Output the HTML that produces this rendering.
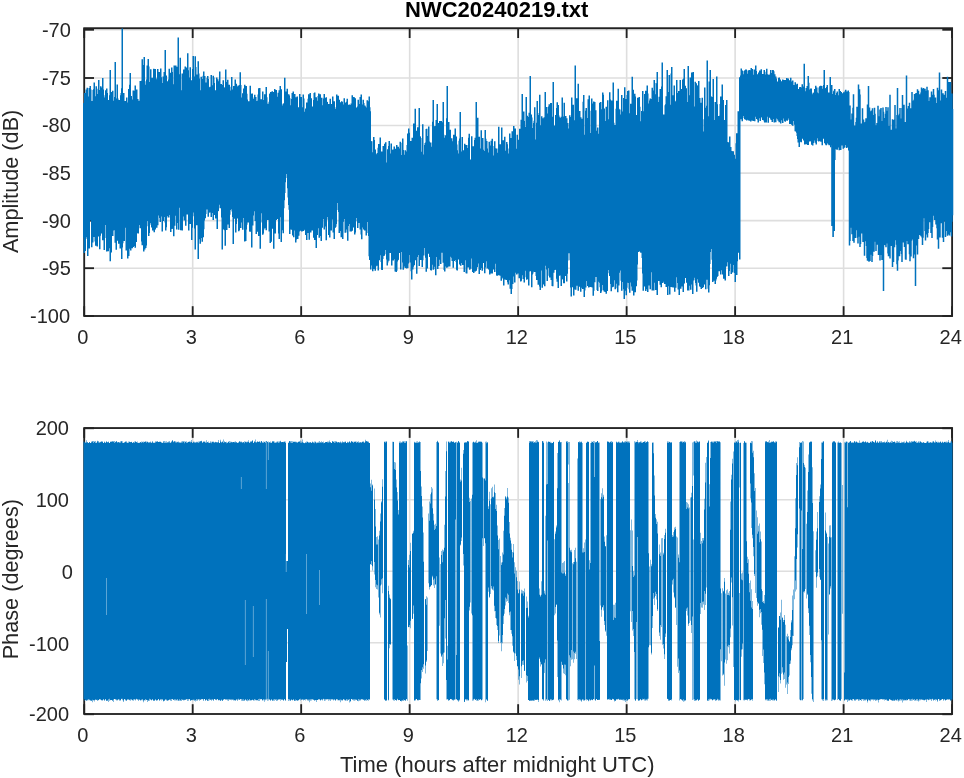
<!DOCTYPE html>
<html lang="en">
<head>
<meta charset="utf-8">
<title>NWC20240219.txt</title>
<style>
html,body{margin:0;padding:0;background:#fff;}
body{width:964px;height:778px;overflow:hidden;font-family:"Liberation Sans",sans-serif;}
svg{display:block;}
</style>
</head>
<body>
<svg width="964" height="778" viewBox="0 0 964 778">
<rect width="964" height="778" fill="#fff"/>
<g stroke="#dedede" stroke-width="1.6" fill="none"><line x1="192.69" y1="28.20" x2="192.69" y2="316.00"/><line x1="301.18" y1="28.20" x2="301.18" y2="316.00"/><line x1="409.66" y1="28.20" x2="409.66" y2="316.00"/><line x1="518.15" y1="28.20" x2="518.15" y2="316.00"/><line x1="626.64" y1="28.20" x2="626.64" y2="316.00"/><line x1="735.12" y1="28.20" x2="735.12" y2="316.00"/><line x1="843.61" y1="28.20" x2="843.61" y2="316.00"/><line x1="84.20" y1="268.20" x2="952.10" y2="268.20"/><line x1="84.20" y1="220.65" x2="952.10" y2="220.65"/><line x1="84.20" y1="173.10" x2="952.10" y2="173.10"/><line x1="84.20" y1="125.55" x2="952.10" y2="125.55"/><line x1="84.20" y1="78.00" x2="952.10" y2="78.00"/><line x1="84.20" y1="29.75" x2="952.10" y2="29.75"/></g>
<g stroke="#222" stroke-width="1.85" fill="none" stroke-linecap="butt"><rect x="84.20" y="28.20" width="867.90" height="287.80"/><line x1="84.20" y1="316.00" x2="84.20" y2="306.20"/><line x1="84.20" y1="28.20" x2="84.20" y2="38.00"/><line x1="192.69" y1="316.00" x2="192.69" y2="306.20"/><line x1="192.69" y1="28.20" x2="192.69" y2="38.00"/><line x1="301.18" y1="316.00" x2="301.18" y2="306.20"/><line x1="301.18" y1="28.20" x2="301.18" y2="38.00"/><line x1="409.66" y1="316.00" x2="409.66" y2="306.20"/><line x1="409.66" y1="28.20" x2="409.66" y2="38.00"/><line x1="518.15" y1="316.00" x2="518.15" y2="306.20"/><line x1="518.15" y1="28.20" x2="518.15" y2="38.00"/><line x1="626.64" y1="316.00" x2="626.64" y2="306.20"/><line x1="626.64" y1="28.20" x2="626.64" y2="38.00"/><line x1="735.12" y1="316.00" x2="735.12" y2="306.20"/><line x1="735.12" y1="28.20" x2="735.12" y2="38.00"/><line x1="843.61" y1="316.00" x2="843.61" y2="306.20"/><line x1="843.61" y1="28.20" x2="843.61" y2="38.00"/><line x1="952.10" y1="316.00" x2="952.10" y2="306.20"/><line x1="952.10" y1="28.20" x2="952.10" y2="38.00"/><line x1="84.20" y1="316.00" x2="94.00" y2="316.00"/><line x1="952.10" y1="316.00" x2="942.30" y2="316.00"/><line x1="84.20" y1="268.20" x2="94.00" y2="268.20"/><line x1="952.10" y1="268.20" x2="942.30" y2="268.20"/><line x1="84.20" y1="220.65" x2="94.00" y2="220.65"/><line x1="952.10" y1="220.65" x2="942.30" y2="220.65"/><line x1="84.20" y1="173.10" x2="94.00" y2="173.10"/><line x1="952.10" y1="173.10" x2="942.30" y2="173.10"/><line x1="84.20" y1="125.55" x2="94.00" y2="125.55"/><line x1="952.10" y1="125.55" x2="942.30" y2="125.55"/><line x1="84.20" y1="78.00" x2="94.00" y2="78.00"/><line x1="952.10" y1="78.00" x2="942.30" y2="78.00"/><line x1="84.20" y1="29.75" x2="94.00" y2="29.75"/><line x1="952.10" y1="29.75" x2="942.30" y2="29.75"/></g>
<g id="amp">
<path d="M83 103.1h1.5v134.5h-1.5zM83.5 105.3h1.5v147.7h-1.5zM84 93.1h1.5v122.7h-1.5zM84.5 103.8h1.5v147.2h-1.5zM85 108.2h1.5v122.7h-1.5zM85.5 89.5h1.5v147.7h-1.5zM86 109.5h1.5v107.5h-1.5zM86.5 87.7h1.5v151.2h-1.5zM87 96.4h1.5v159.6h-1.5zM87.5 98.3h1.5v122.4h-1.5zM88 101.2h1.5v133.8h-1.5zM88.5 88h1.5v160.4h-1.5zM89 101.5h1.5v117h-1.5zM89.5 86h1.5v129.6h-1.5zM90 89.4h1.5v131.2h-1.5zM90.5 107h1.5v108.8h-1.5zM91 101.1h1.5v146.2h-1.5zM91.5 109.1h1.5v106.2h-1.5zM92 110.2h1.5v132.3h-1.5zM92.5 90h1.5v138.2h-1.5zM93 89.3h1.5v147.8h-1.5zM93.5 82.5h1.5v152.4h-1.5zM94 98.7h1.5v128.9h-1.5zM94.5 96.3h1.5v145.1h-1.5zM95 96.3h1.5v149.4h-1.5zM95.5 86.2h1.5v140h-1.5zM96 88.8h1.5v132.1h-1.5zM96.5 95.3h1.5v151.3h-1.5zM97 101.3h1.5v124.3h-1.5zM97.5 94.1h1.5v142.5h-1.5zM98 80h1.5v146.7h-1.5zM98.5 99.5h1.5v125.3h-1.5zM99 90h1.5v159.3h-1.5zM99.5 95.6h1.5v140.2h-1.5zM100 86.3h1.5v134h-1.5zM100.5 111h1.5v115.2h-1.5zM101 87.6h1.5v145.8h-1.5zM101.5 102.9h1.5v124.5h-1.5zM102 78h1.5v162.3h-1.5zM102.5 89.6h1.5v133.4h-1.5zM103 97.5h1.5v128.6h-1.5zM103.5 111.1h1.5v138.9h-1.5zM104 112.2h1.5v125.9h-1.5zM104.5 95.3h1.5v128h-1.5zM105 90.3h1.5v129.2h-1.5zM105.5 94.8h1.5v130.1h-1.5zM106 88.6h1.5v162.8h-1.5zM106.5 92.9h1.5v123.6h-1.5zM107 104.4h1.5v125.5h-1.5zM107.5 103h1.5v148.2h-1.5zM108 99.9h1.5v135.8h-1.5zM108.5 105.9h1.5v113.3h-1.5zM109 95.2h1.5v153h-1.5zM109.5 70h1.5v191.2h-1.5zM110 110.1h1.5v135.7h-1.5zM110.5 91.9h1.5v160.7h-1.5zM111 94.6h1.5v121.6h-1.5zM111.5 95.1h1.5v124.3h-1.5zM112 90.7h1.5v145.2h-1.5zM112.5 107.9h1.5v122.7h-1.5zM113 100.7h1.5v129.5h-1.5zM113.5 103.8h1.5v114.5h-1.5zM114 96.9h1.5v130.9h-1.5zM114.5 62h1.5v180.7h-1.5zM115 110h1.5v115.9h-1.5zM115.5 106h1.5v143.7h-1.5zM116 98.6h1.5v133.7h-1.5zM116.5 84.4h1.5v144.5h-1.5zM117 98.5h1.5v142h-1.5zM117.5 111.4h1.5v129.5h-1.5zM118 103.6h1.5v140.2h-1.5zM118.5 100.1h1.5v126.4h-1.5zM119 101.7h1.5v124.1h-1.5zM119.5 104.3h1.5v144.2h-1.5zM120 95.3h1.5v134.5h-1.5zM120.5 93.1h1.5v135.9h-1.5zM121 88.3h1.5v170.8h-1.5zM121.5 28.6h1.5v218.9h-1.5zM122 103h1.5v140.3h-1.5zM122.5 111.7h1.5v129.3h-1.5zM123 92.9h1.5v144.3h-1.5zM123.5 108.8h1.5v132.1h-1.5zM124 101.2h1.5v121.4h-1.5zM124.5 101h1.5v121.9h-1.5zM125 102.2h1.5v125.5h-1.5zM125.5 101.5h1.5v149h-1.5zM126 97.6h1.5v135.6h-1.5zM126.5 109.4h1.5v134.3h-1.5zM127 102.4h1.5v156.1h-1.5zM127.5 108.7h1.5v116.7h-1.5zM128 88.9h1.5v167h-1.5zM128.5 98.7h1.5v147.4h-1.5zM129 84.7h1.5v164.1h-1.5zM129.5 73h1.5v143.5h-1.5zM130 108.4h1.5v142.1h-1.5zM130.5 96h1.5v147.8h-1.5zM131 99.5h1.5v124.6h-1.5zM131.5 110.3h1.5v138h-1.5zM132 104.2h1.5v124.3h-1.5zM132.5 90.5h1.5v156.5h-1.5zM133 90.7h1.5v135.5h-1.5zM133.5 98.1h1.5v147.9h-1.5zM134 96.4h1.5v126.6h-1.5zM134.5 85.6h1.5v162.2h-1.5zM135 110.6h1.5v109.2h-1.5zM135.5 92.6h1.5v149.4h-1.5zM136 89.5h1.5v143.8h-1.5zM136.5 102.9h1.5v127.8h-1.5zM137 98.9h1.5v133.5h-1.5zM137.5 105.9h1.5v127.7h-1.5zM138 105.7h1.5v118.6h-1.5zM138.5 100.8h1.5v124.1h-1.5zM139 105.5h1.5v117.8h-1.5zM139.5 81h1.5v147.2h-1.5zM140 85.7h1.5v133.8h-1.5zM140.5 86.2h1.5v131.2h-1.5zM141 80.7h1.5v160.7h-1.5zM141.5 59.2h1.5v186h-1.5zM142 90.6h1.5v126.6h-1.5zM142.5 70.1h1.5v162.7h-1.5zM143 65.1h1.5v186.3h-1.5zM143.5 57h1.5v175h-1.5zM144 81.3h1.5v168.2h-1.5zM144.5 89.1h1.5v152.9h-1.5zM145 84.7h1.5v163.3h-1.5zM145.5 84.9h1.5v160.7h-1.5zM146 79.5h1.5v136.6h-1.5zM146.5 65.4h1.5v154.7h-1.5zM147 76.1h1.5v144.9h-1.5zM147.5 59h1.5v167.2h-1.5zM148 66.5h1.5v169.5h-1.5zM148.5 91.9h1.5v141.2h-1.5zM149 81.9h1.5v141.1h-1.5zM149.5 86.8h1.5v127.6h-1.5zM150 69.3h1.5v138.3h-1.5zM150.5 86.9h1.5v137.8h-1.5zM151 90h1.5v137.6h-1.5zM151.5 77.8h1.5v144.2h-1.5zM152 86.7h1.5v143.7h-1.5zM152.5 80.2h1.5v143.2h-1.5zM153 68.7h1.5v155.6h-1.5zM153.5 93.5h1.5v138.8h-1.5zM154 92.2h1.5v108.4h-1.5zM154.5 69.1h1.5v160.4h-1.5zM155 93.1h1.5v134h-1.5zM155.5 85.1h1.5v117.5h-1.5zM156 79.3h1.5v148.5h-1.5zM156.5 77.8h1.5v141.4h-1.5zM157 69.1h1.5v156.2h-1.5zM157.5 76.6h1.5v137.4h-1.5zM158 81.1h1.5v126.7h-1.5zM158.5 71.9h1.5v143.5h-1.5zM159 89.2h1.5v128.9h-1.5zM159.5 77.2h1.5v144.9h-1.5zM160 68.6h1.5v147.9h-1.5zM160.5 77.2h1.5v135.6h-1.5zM161 83.9h1.5v125.3h-1.5zM161.5 93.8h1.5v137.8h-1.5zM162 83h1.5v118.9h-1.5zM162.5 76.4h1.5v144.6h-1.5zM163 77.9h1.5v133h-1.5zM163.5 71.9h1.5v145.1h-1.5zM164 78.2h1.5v133.4h-1.5zM164.5 50h1.5v172.4h-1.5zM165 91.3h1.5v139.1h-1.5zM165.5 75.5h1.5v151.8h-1.5zM166 82.7h1.5v125.6h-1.5zM166.5 81.3h1.5v134.8h-1.5zM167 82.4h1.5v128.4h-1.5zM167.5 84.4h1.5v133h-1.5zM168 79.6h1.5v137.8h-1.5zM168.5 68.8h1.5v146.1h-1.5zM169 87h1.5v126h-1.5zM169.5 72.8h1.5v134h-1.5zM170 84.2h1.5v147.8h-1.5zM170.5 89.4h1.5v119.8h-1.5zM171 67.5h1.5v161.5h-1.5zM171.5 72h1.5v156.7h-1.5zM172 84.2h1.5v124.8h-1.5zM172.5 93h1.5v129.7h-1.5zM173 91.8h1.5v144.5h-1.5zM173.5 65.4h1.5v140.9h-1.5zM174 68.2h1.5v157.5h-1.5zM174.5 75.2h1.5v140.6h-1.5zM175 65.6h1.5v147.9h-1.5zM175.5 92.3h1.5v114.4h-1.5zM176 66.8h1.5v162.7h-1.5zM176.5 72h1.5v150.9h-1.5zM177 92.6h1.5v122.2h-1.5zM177.5 37.5h1.5v179h-1.5zM178 88.7h1.5v141h-1.5zM178.5 74.3h1.5v126.5h-1.5zM179 92.1h1.5v115.6h-1.5zM179.5 57.7h1.5v149.1h-1.5zM180 91.8h1.5v138.4h-1.5zM180.5 91.9h1.5v121.5h-1.5zM181 90.2h1.5v109.7h-1.5zM181.5 73.5h1.5v157h-1.5zM182 85.8h1.5v128.2h-1.5zM182.5 74.1h1.5v141.1h-1.5zM183 69.4h1.5v147h-1.5zM183.5 86.2h1.5v134.2h-1.5zM184 72.2h1.5v147.7h-1.5zM184.5 66.6h1.5v151h-1.5zM185 69.8h1.5v156h-1.5zM185.5 67.6h1.5v142.7h-1.5zM186 79.4h1.5v119.4h-1.5zM186.5 73.4h1.5v141h-1.5zM187 53.2h1.5v159.1h-1.5zM187.5 70.3h1.5v136.4h-1.5zM188 86h1.5v144.5h-1.5zM188.5 93.8h1.5v128.5h-1.5zM189 77.5h1.5v125.8h-1.5zM189.5 67.2h1.5v156.9h-1.5zM190 84.1h1.5v129.2h-1.5zM190.5 80.3h1.5v129.7h-1.5zM191 86.8h1.5v153.3h-1.5zM191.5 90.7h1.5v137h-1.5zM192 69.1h1.5v131.6h-1.5zM192.5 56h1.5v156.6h-1.5zM193 76.6h1.5v123h-1.5zM193.5 76.9h1.5v139.3h-1.5zM194 85.1h1.5v143.3h-1.5zM194.5 56.3h1.5v193.2h-1.5zM195 67h1.5v150.7h-1.5zM195.5 91.7h1.5v127.9h-1.5zM196 74.5h1.5v150.8h-1.5zM196.5 80h1.5v134.3h-1.5zM197 81.5h1.5v136.8h-1.5zM197.5 61.2h1.5v197.8h-1.5zM198 73.4h1.5v165.8h-1.5zM198.5 78.5h1.5v141.5h-1.5zM199 92.1h1.5v122.3h-1.5zM199.5 97.7h1.5v146h-1.5zM200 90.2h1.5v119.3h-1.5zM200.5 76.8h1.5v161.3h-1.5zM201 79.1h1.5v147.1h-1.5zM201.5 78.9h1.5v162.8h-1.5zM202 82.6h1.5v143.4h-1.5zM202.5 75.7h1.5v161.6h-1.5zM203 71.4h1.5v157.8h-1.5zM203.5 85h1.5v135.4h-1.5zM204 76h1.5v131h-1.5zM204.5 87.3h1.5v131h-1.5zM205 82.4h1.5v131.6h-1.5zM205.5 90.6h1.5v106.3h-1.5zM206 84.3h1.5v121.9h-1.5zM206.5 77.8h1.5v131.6h-1.5zM207 76h1.5v131.5h-1.5zM207.5 78.9h1.5v137.8h-1.5zM208 101.4h1.5v111.3h-1.5zM208.5 87.2h1.5v121h-1.5zM209 89.7h1.5v117.3h-1.5zM209.5 86.7h1.5v125.9h-1.5zM210 89.1h1.5v115.4h-1.5zM210.5 75.1h1.5v142h-1.5zM211 85.2h1.5v127.9h-1.5zM211.5 98.5h1.5v114.2h-1.5zM212 86.8h1.5v124.9h-1.5zM212.5 75.7h1.5v144.3h-1.5zM213 77.6h1.5v133.8h-1.5zM213.5 83h1.5v114.1h-1.5zM214 98.1h1.5v116.9h-1.5zM214.5 90.3h1.5v122.6h-1.5zM215 96.9h1.5v121.7h-1.5zM215.5 95.1h1.5v112.9h-1.5zM216 77.4h1.5v117h-1.5zM216.5 86.9h1.5v142.1h-1.5zM217 79.2h1.5v132.1h-1.5zM217.5 81.2h1.5v129.8h-1.5zM218 88.6h1.5v108.1h-1.5zM218.5 101.4h1.5v103.4h-1.5zM219 71.4h1.5v131.3h-1.5zM219.5 86.9h1.5v121.4h-1.5zM220 91.6h1.5v104.2h-1.5zM220.5 84h1.5v121.9h-1.5zM221 84.9h1.5v132.7h-1.5zM221.5 93.9h1.5v155.6h-1.5zM222 98.4h1.5v124.1h-1.5zM222.5 80.2h1.5v120.2h-1.5zM223 87.6h1.5v142h-1.5zM223.5 93.4h1.5v111.6h-1.5zM224 98.4h1.5v131.9h-1.5zM224.5 87.2h1.5v158.5h-1.5zM225 69.6h1.5v140.2h-1.5zM225.5 100.7h1.5v129.3h-1.5zM226 87.5h1.5v142.6h-1.5zM226.5 81.9h1.5v128.4h-1.5zM227 79.7h1.5v144.9h-1.5zM227.5 88.8h1.5v121.7h-1.5zM228 91.1h1.5v125.3h-1.5zM228.5 84.7h1.5v143.4h-1.5zM229 86.8h1.5v127.9h-1.5zM229.5 90.4h1.5v119.6h-1.5zM230 96.7h1.5v112.5h-1.5zM230.5 93.7h1.5v106.9h-1.5zM231 77h1.5v124.4h-1.5zM231.5 92.3h1.5v119.2h-1.5zM232 89.5h1.5v127.4h-1.5zM232.5 100.1h1.5v143.9h-1.5zM233 86.1h1.5v123.1h-1.5zM233.5 97h1.5v104.1h-1.5zM234 87.6h1.5v130.9h-1.5zM234.5 79.4h1.5v139.7h-1.5zM235 94.3h1.5v138.2h-1.5zM235.5 83.7h1.5v140.2h-1.5zM236 86.5h1.5v118.6h-1.5zM236.5 94.3h1.5v124.1h-1.5zM237 93.8h1.5v116.3h-1.5zM237.5 85.6h1.5v127.6h-1.5zM238 99.3h1.5v132h-1.5zM238.5 93.8h1.5v136.5h-1.5zM239 84.9h1.5v123.7h-1.5zM239.5 72.3h1.5v146.4h-1.5zM240 85h1.5v142.9h-1.5zM240.5 99.2h1.5v103.5h-1.5zM241 102.5h1.5v109.8h-1.5zM241.5 97.6h1.5v124.8h-1.5zM242 93.3h1.5v136.4h-1.5zM242.5 93.2h1.5v115h-1.5zM243 88.5h1.5v129.4h-1.5zM243.5 89.8h1.5v118.6h-1.5zM244 84.8h1.5v156.6h-1.5zM244.5 98.4h1.5v116.2h-1.5zM245 87.2h1.5v153.9h-1.5zM245.5 86h1.5v143.4h-1.5zM246 93.7h1.5v131.1h-1.5zM246.5 99.4h1.5v121h-1.5zM247 102.5h1.5v116.9h-1.5zM247.5 101.3h1.5v121.1h-1.5zM248 105.6h1.5v111.4h-1.5zM248.5 103.3h1.5v102.2h-1.5zM249 101.3h1.5v130.2h-1.5zM249.5 85.8h1.5v146h-1.5zM250 95.1h1.5v117.9h-1.5zM250.5 97.9h1.5v104.8h-1.5zM251 93.8h1.5v153.7h-1.5zM251.5 93.5h1.5v108.4h-1.5zM252 97.6h1.5v128h-1.5zM252.5 101h1.5v114.6h-1.5zM253 100.6h1.5v107.1h-1.5zM253.5 98.9h1.5v106.8h-1.5zM254 94.8h1.5v116.5h-1.5zM254.5 111.8h1.5v109.2h-1.5zM255 96.9h1.5v105.8h-1.5zM255.5 105.1h1.5v128.9h-1.5zM256 101h1.5v127.5h-1.5zM256.5 102h1.5v129.8h-1.5zM257 100.7h1.5v111.1h-1.5zM257.5 94.4h1.5v122.8h-1.5zM258 88.2h1.5v147.9h-1.5zM258.5 103.4h1.5v101.2h-1.5zM259 87.9h1.5v141.7h-1.5zM259.5 101.8h1.5v147h-1.5zM260 109.9h1.5v101.5h-1.5zM260.5 99.3h1.5v114h-1.5zM261 101h1.5v107.7h-1.5zM261.5 111.5h1.5v111.1h-1.5zM262 91.5h1.5v143.3h-1.5zM262.5 103.7h1.5v129.9h-1.5zM263 101.7h1.5v127.7h-1.5zM263.5 100h1.5v102.3h-1.5zM264 94.3h1.5v133.9h-1.5zM264.5 95.7h1.5v129.2h-1.5zM265 101.2h1.5v120.6h-1.5zM265.5 87.1h1.5v143.2h-1.5zM266 97.2h1.5v107.3h-1.5zM266.5 104.2h1.5v113.1h-1.5zM267 104.9h1.5v115h-1.5zM267.5 103.7h1.5v110.3h-1.5zM268 106.2h1.5v106.1h-1.5zM268.5 101.8h1.5v129.8h-1.5zM269 93.9h1.5v123.7h-1.5zM269.5 93.3h1.5v149.7h-1.5zM270 91.9h1.5v117.7h-1.5zM270.5 96.5h1.5v145.3h-1.5zM271 98.3h1.5v122.8h-1.5zM271.5 91.3h1.5v131.6h-1.5zM272 112.6h1.5v116.1h-1.5zM272.5 92h1.5v127.1h-1.5zM273 109.7h1.5v139.1h-1.5zM273.5 101.7h1.5v103.4h-1.5zM274 88.9h1.5v133.6h-1.5zM274.5 94.8h1.5v138.7h-1.5zM275 95.9h1.5v119.2h-1.5zM275.5 90.1h1.5v129.8h-1.5zM276 112.9h1.5v99.6h-1.5zM276.5 96.7h1.5v116.7h-1.5zM277 108.4h1.5v110.7h-1.5zM277.5 92.7h1.5v116.3h-1.5zM278 94.9h1.5v138.5h-1.5zM278.5 90.2h1.5v148.8h-1.5zM279 105.1h1.5v96.9h-1.5zM279.5 85.9h1.5v131.3h-1.5zM280 105.1h1.5v101h-1.5zM280.5 89.3h1.5v152.8h-1.5zM281 109.9h1.5v118.9h-1.5zM281.5 105.6h1.5v124.7h-1.5zM282 111.8h1.5v106.6h-1.5zM282.5 103.7h1.5v129.6h-1.5zM283 110.9h1.5v97.3h-1.5zM283.5 103.1h1.5v97.1h-1.5zM284 77.7h1.5v115.4h-1.5zM284.5 106.7h1.5v75.6h-1.5zM285 110.2h1.5v63.9h-1.5zM285.5 91.6h1.5v81.6h-1.5zM286 93.8h1.5v78.8h-1.5zM286.5 88.8h1.5v89.1h-1.5zM287 97.3h1.5v91h-1.5zM287.5 116.2h1.5v81.4h-1.5zM288 94.2h1.5v110.7h-1.5zM288.5 95.6h1.5v114.1h-1.5zM289 98.3h1.5v135.8h-1.5zM289.5 116.9h1.5v112.2h-1.5zM290 113.7h1.5v115.9h-1.5zM290.5 105.3h1.5v111.6h-1.5zM291 99.1h1.5v116.8h-1.5zM291.5 93h1.5v136.9h-1.5zM292 93h1.5v142.6h-1.5zM292.5 91.4h1.5v129.4h-1.5zM293 95h1.5v142.2h-1.5zM293.5 103.6h1.5v126.8h-1.5zM294 94.1h1.5v122.1h-1.5zM294.5 103.6h1.5v108.5h-1.5zM295 116.7h1.5v125.7h-1.5zM295.5 97.2h1.5v142.3h-1.5zM296 105h1.5v116.5h-1.5zM296.5 96.5h1.5v140.2h-1.5zM297 115h1.5v124h-1.5zM297.5 108.6h1.5v112.5h-1.5zM298 107.3h1.5v128.5h-1.5zM298.5 109.5h1.5v121.9h-1.5zM299 94h1.5v127h-1.5zM299.5 101.3h1.5v109.4h-1.5zM300 104.4h1.5v126.3h-1.5zM300.5 97.1h1.5v126h-1.5zM301 109h1.5v122.4h-1.5zM301.5 111.2h1.5v120.1h-1.5zM302 107.3h1.5v111.2h-1.5zM302.5 94.6h1.5v136.3h-1.5zM303 98.6h1.5v131.1h-1.5zM303.5 117.5h1.5v106h-1.5zM304 117.3h1.5v99h-1.5zM304.5 111.8h1.5v118.6h-1.5zM305 108.5h1.5v126.5h-1.5zM305.5 112h1.5v118.3h-1.5zM306 102.6h1.5v137.3h-1.5zM306.5 116.4h1.5v115.3h-1.5zM307 109.1h1.5v124h-1.5zM307.5 98.8h1.5v133.5h-1.5zM308 94.3h1.5v114.5h-1.5zM308.5 107.7h1.5v132.1h-1.5zM309 105.9h1.5v107.2h-1.5zM309.5 92.9h1.5v120.5h-1.5zM310 108.8h1.5v123.7h-1.5zM310.5 98.3h1.5v114.5h-1.5zM311 112.6h1.5v103.4h-1.5zM311.5 106.6h1.5v124h-1.5zM312 117.3h1.5v108.7h-1.5zM312.5 118.1h1.5v106.5h-1.5zM313 100.1h1.5v137.6h-1.5zM313.5 93.1h1.5v142.3h-1.5zM314 92.5h1.5v147.6h-1.5zM314.5 99.6h1.5v121.5h-1.5zM315 111h1.5v124h-1.5zM315.5 97.3h1.5v150.6h-1.5zM316 100.8h1.5v115.4h-1.5zM316.5 112.8h1.5v122.3h-1.5zM317 109.1h1.5v119.2h-1.5zM317.5 96.1h1.5v126.1h-1.5zM318 93.4h1.5v124.2h-1.5zM318.5 104.2h1.5v133.6h-1.5zM319 96.4h1.5v139.7h-1.5zM319.5 94.2h1.5v127.9h-1.5zM320 104.5h1.5v129.3h-1.5zM320.5 107.9h1.5v133.2h-1.5zM321 97.8h1.5v111.2h-1.5zM321.5 106.1h1.5v121.7h-1.5zM322 105.3h1.5v111.6h-1.5zM322.5 112.8h1.5v106.1h-1.5zM323 98.4h1.5v117.1h-1.5zM323.5 93.9h1.5v135.5h-1.5zM324 116.2h1.5v110.4h-1.5zM324.5 98h1.5v126.6h-1.5zM325 111.4h1.5v104h-1.5zM325.5 97.3h1.5v143h-1.5zM326 101.8h1.5v115.1h-1.5zM326.5 102.1h1.5v105.8h-1.5zM327 110.6h1.5v101.6h-1.5zM327.5 105.9h1.5v113.8h-1.5zM328 104.1h1.5v131h-1.5zM328.5 111.1h1.5v106.2h-1.5zM329 114.6h1.5v123h-1.5zM329.5 98.7h1.5v109.3h-1.5zM330 110.1h1.5v110.6h-1.5zM330.5 111.9h1.5v118.6h-1.5zM331 104h1.5v106.7h-1.5zM331.5 108.9h1.5v108.8h-1.5zM332 96.4h1.5v123.2h-1.5zM332.5 116.9h1.5v115.7h-1.5zM333 119.9h1.5v106.6h-1.5zM333.5 101.3h1.5v137.6h-1.5zM334 107.3h1.5v107.6h-1.5zM334.5 113.3h1.5v114.4h-1.5zM335 111.2h1.5v115.5h-1.5zM335.5 109h1.5v114.9h-1.5zM336 94.5h1.5v115.5h-1.5zM336.5 108h1.5v94.4h-1.5zM337 111.3h1.5v91.6h-1.5zM337.5 95.8h1.5v106.4h-1.5zM338 112.1h1.5v99.9h-1.5zM338.5 99.7h1.5v133.4h-1.5zM339 109.6h1.5v109.8h-1.5zM339.5 115.7h1.5v95h-1.5zM340 102.3h1.5v128.6h-1.5zM340.5 113.1h1.5v124.2h-1.5zM341 101.3h1.5v131.1h-1.5zM341.5 102h1.5v107.9h-1.5zM342 115.5h1.5v123.6h-1.5zM342.5 120.1h1.5v101.6h-1.5zM343 104.4h1.5v104.9h-1.5zM343.5 98.2h1.5v120h-1.5zM344 110.7h1.5v108.4h-1.5zM344.5 102.4h1.5v130.4h-1.5zM345 115.7h1.5v113.1h-1.5zM345.5 103.4h1.5v115.4h-1.5zM346 101.8h1.5v127.6h-1.5zM346.5 98.7h1.5v133.9h-1.5zM347 112.6h1.5v128.2h-1.5zM347.5 104.9h1.5v121h-1.5zM348 115h1.5v104.5h-1.5zM348.5 104.6h1.5v119.4h-1.5zM349 111.8h1.5v102.8h-1.5zM349.5 104.9h1.5v126.5h-1.5zM350 120.4h1.5v91.7h-1.5zM350.5 103.6h1.5v128h-1.5zM351 109.2h1.5v121.8h-1.5zM351.5 95.2h1.5v135.2h-1.5zM352 119.5h1.5v99.8h-1.5zM352.5 97.2h1.5v124h-1.5zM353 97.1h1.5v130.5h-1.5zM353.5 97.4h1.5v124.6h-1.5zM354 109.6h1.5v124.8h-1.5zM354.5 98.3h1.5v134.2h-1.5zM355 117.9h1.5v103.3h-1.5zM355.5 111.3h1.5v96h-1.5zM356 107.5h1.5v110.6h-1.5zM356.5 119.5h1.5v95.3h-1.5zM357 106.4h1.5v121.6h-1.5zM357.5 99.8h1.5v115.8h-1.5zM358 104.8h1.5v113.1h-1.5zM358.5 120.3h1.5v102.8h-1.5zM359 104h1.5v114.1h-1.5zM359.5 96.9h1.5v132.7h-1.5zM360 107.8h1.5v116.8h-1.5zM360.5 94.6h1.5v139.8h-1.5zM361 107.2h1.5v132h-1.5zM361.5 104.4h1.5v123.2h-1.5zM362 109.2h1.5v103h-1.5zM362.5 99.7h1.5v117.2h-1.5zM363 103h1.5v126.4h-1.5zM363.5 113h1.5v101.6h-1.5zM364 105.4h1.5v125.2h-1.5zM364.5 106.4h1.5v104.6h-1.5zM365 110.7h1.5v113.3h-1.5zM365.5 115.9h1.5v119.5h-1.5zM366 107.6h1.5v125.3h-1.5zM366.5 100.3h1.5v121.6h-1.5zM367 101.6h1.5v119.5h-1.5zM367.5 101.3h1.5v120.5h-1.5zM368 116.9h1.5v119.2h-1.5zM368.5 96.4h1.5v159.9h-1.5zM369 107.3h1.5v152.8h-1.5zM369.5 111.2h1.5v137.1h-1.5zM370 140.9h1.5v128.7h-1.5zM370.5 160.1h1.5v105.3h-1.5zM371 141.3h1.5v104h-1.5zM371.5 164.2h1.5v99.3h-1.5zM372 152.3h1.5v119h-1.5zM372.5 158.4h1.5v90h-1.5zM373 136.9h1.5v132h-1.5zM373.5 140h1.5v110.4h-1.5zM374 162.5h1.5v84.7h-1.5zM374.5 149.4h1.5v121.4h-1.5zM375 154.2h1.5v112.3h-1.5zM375.5 155.7h1.5v95.1h-1.5zM376 169.5h1.5v96.3h-1.5zM376.5 153.2h1.5v96.3h-1.5zM377 152.9h1.5v90.3h-1.5zM377.5 147.8h1.5v122.7h-1.5zM378 144.1h1.5v112.6h-1.5zM378.5 168.5h1.5v91.8h-1.5zM379 154.9h1.5v86.3h-1.5zM379.5 137.6h1.5v117.7h-1.5zM380 165.7h1.5v85.2h-1.5zM380.5 158.1h1.5v104h-1.5zM381 151.4h1.5v118.4h-1.5zM381.5 158.7h1.5v111.3h-1.5zM382 154.7h1.5v104.4h-1.5zM382.5 146h1.5v110h-1.5zM383 150.5h1.5v94.6h-1.5zM383.5 149.4h1.5v106.4h-1.5zM384 143.7h1.5v110.6h-1.5zM384.5 168.7h1.5v81.3h-1.5zM385 142.3h1.5v101.5h-1.5zM385.5 168h1.5v77.1h-1.5zM386 162.4h1.5v97.2h-1.5zM386.5 170.7h1.5v94.8h-1.5zM387 149.2h1.5v113.2h-1.5zM387.5 152h1.5v98.6h-1.5zM388 145.9h1.5v114.9h-1.5zM388.5 140.9h1.5v112.1h-1.5zM389 154.1h1.5v98.5h-1.5zM389.5 153.5h1.5v91h-1.5zM390 155.6h1.5v97.5h-1.5zM390.5 143.6h1.5v97.8h-1.5zM391 169.5h1.5v95.9h-1.5zM391.5 149.8h1.5v95.4h-1.5zM392 163.8h1.5v89.9h-1.5zM392.5 149.5h1.5v110.9h-1.5zM393 154.1h1.5v105.1h-1.5zM393.5 146.5h1.5v103.9h-1.5zM394 171.2h1.5v71.8h-1.5zM394.5 149.6h1.5v121.9h-1.5zM395 148.7h1.5v120.1h-1.5zM395.5 167h1.5v104.9h-1.5zM396 145h1.5v125.7h-1.5zM396.5 154.3h1.5v107.3h-1.5zM397 153.7h1.5v106.5h-1.5zM397.5 146.8h1.5v112.9h-1.5zM398 148.4h1.5v104h-1.5zM398.5 156.9h1.5v96.1h-1.5zM399 150h1.5v90.9h-1.5zM399.5 141.7h1.5v108.4h-1.5zM400 156.3h1.5v113.1h-1.5zM400.5 154.9h1.5v96.3h-1.5zM401 157h1.5v95.1h-1.5zM401.5 142.8h1.5v101.6h-1.5zM402 138.5h1.5v124.1h-1.5zM402.5 149.9h1.5v119.8h-1.5zM403 167h1.5v78.5h-1.5zM403.5 154.7h1.5v98.5h-1.5zM404 167.8h1.5v98.6h-1.5zM404.5 150.3h1.5v117.7h-1.5zM405 156.5h1.5v87.6h-1.5zM405.5 161.2h1.5v93.2h-1.5zM406 151.4h1.5v117.1h-1.5zM406.5 144.9h1.5v104.8h-1.5zM407 133.5h1.5v134.6h-1.5zM407.5 143.9h1.5v119.7h-1.5zM408 128.6h1.5v117h-1.5zM408.5 132.7h1.5v119h-1.5zM409 160.6h1.5v94.5h-1.5zM409.5 158.7h1.5v103.7h-1.5zM410 141h1.5v115.3h-1.5zM410.5 160.5h1.5v110.8h-1.5zM411 150.1h1.5v129.5h-1.5zM411.5 137.7h1.5v107.8h-1.5zM412 157.7h1.5v111.7h-1.5zM412.5 140.9h1.5v125.8h-1.5zM413 123.5h1.5v130.5h-1.5zM413.5 140.3h1.5v124.9h-1.5zM414 142.4h1.5v115.9h-1.5zM414.5 108.8h1.5v146.7h-1.5zM415 142h1.5v118.2h-1.5zM415.5 130.7h1.5v126h-1.5zM416 135.9h1.5v137.8h-1.5zM416.5 135h1.5v122h-1.5zM417 127.3h1.5v121.3h-1.5zM417.5 148.3h1.5v106.8h-1.5zM418 137.2h1.5v115.1h-1.5zM418.5 108h1.5v158h-1.5zM419 135.9h1.5v117.2h-1.5zM419.5 136.7h1.5v112.9h-1.5zM420 152.7h1.5v107.4h-1.5zM420.5 151.8h1.5v102.1h-1.5zM421 160.9h1.5v98h-1.5zM421.5 138h1.5v129h-1.5zM422 124.3h1.5v135.9h-1.5zM422.5 158.5h1.5v93.9h-1.5zM423 158.1h1.5v97.5h-1.5zM423.5 154.6h1.5v92.6h-1.5zM424 145.1h1.5v100.5h-1.5zM424.5 142.9h1.5v105.2h-1.5zM425 142.4h1.5v115.3h-1.5zM425.5 129.1h1.5v142.7h-1.5zM426 128.8h1.5v130.8h-1.5zM426.5 136h1.5v132.6h-1.5zM427 153.2h1.5v95.9h-1.5zM427.5 154.6h1.5v99.1h-1.5zM428 126.6h1.5v120.3h-1.5zM428.5 141.4h1.5v112h-1.5zM429 145.9h1.5v111.2h-1.5zM429.5 160.8h1.5v93.4h-1.5zM430 142.6h1.5v127.4h-1.5zM430.5 146.7h1.5v123.7h-1.5zM431 152.6h1.5v110.6h-1.5zM431.5 152.1h1.5v111.7h-1.5zM432 121.7h1.5v143h-1.5zM432.5 100h1.5v169.7h-1.5zM433 126.2h1.5v143.1h-1.5zM433.5 128.1h1.5v138.6h-1.5zM434 149.8h1.5v100.7h-1.5zM434.5 126h1.5v131h-1.5zM435 161.4h1.5v113.8h-1.5zM435.5 119.9h1.5v136.7h-1.5zM436 120.9h1.5v131.9h-1.5zM436.5 104h1.5v153h-1.5zM437 136h1.5v133h-1.5zM437.5 123.3h1.5v141.7h-1.5zM438 123h1.5v143h-1.5zM438.5 127.7h1.5v120.9h-1.5zM439 120.9h1.5v134.5h-1.5zM439.5 159.3h1.5v100.4h-1.5zM440 147.8h1.5v116.1h-1.5zM440.5 121h1.5v128h-1.5zM441 122.2h1.5v130.6h-1.5zM441.5 153.5h1.5v93.7h-1.5zM442 151.9h1.5v94.4h-1.5zM442.5 102h1.5v160.7h-1.5zM443 134.8h1.5v127.7h-1.5zM443.5 154.7h1.5v115.3h-1.5zM444 137.8h1.5v133.7h-1.5zM444.5 154.7h1.5v104.5h-1.5zM445 135.3h1.5v131.2h-1.5zM445.5 143h1.5v119.4h-1.5zM446 118.3h1.5v149.4h-1.5zM446.5 86h1.5v171.8h-1.5zM447 128.5h1.5v138.8h-1.5zM447.5 161.9h1.5v104.4h-1.5zM448 122h1.5v136h-1.5zM448.5 136.9h1.5v118h-1.5zM449 132.4h1.5v134h-1.5zM449.5 129.8h1.5v124.7h-1.5zM450 153.6h1.5v100.5h-1.5zM450.5 142.5h1.5v114.3h-1.5zM451 138.3h1.5v119.5h-1.5zM451.5 145.4h1.5v115.7h-1.5zM452 141.2h1.5v107.6h-1.5zM452.5 141.8h1.5v126h-1.5zM453 134.8h1.5v123.3h-1.5zM453.5 140.6h1.5v120.5h-1.5zM454 134.7h1.5v118.5h-1.5zM454.5 128.5h1.5v131.5h-1.5zM455 154h1.5v106h-1.5zM455.5 136.6h1.5v125.3h-1.5zM456 144.5h1.5v125.2h-1.5zM456.5 150.3h1.5v120.2h-1.5zM457 153.6h1.5v103.3h-1.5zM457.5 160h1.5v99.4h-1.5zM458 157.2h1.5v96.4h-1.5zM458.5 140.7h1.5v115.3h-1.5zM459 138.6h1.5v125.9h-1.5zM459.5 112h1.5v142.6h-1.5zM460 159.7h1.5v106h-1.5zM460.5 151.6h1.5v111.4h-1.5zM461 166.3h1.5v93.4h-1.5zM461.5 136.9h1.5v116.9h-1.5zM462 160.1h1.5v104.8h-1.5zM462.5 154.4h1.5v102.9h-1.5zM463 150.2h1.5v98.6h-1.5zM463.5 153.1h1.5v119h-1.5zM464 143.8h1.5v111.4h-1.5zM464.5 147.8h1.5v101.2h-1.5zM465 157h1.5v103.2h-1.5zM465.5 144.9h1.5v128.4h-1.5zM466 166.5h1.5v107.1h-1.5zM466.5 153.6h1.5v111.6h-1.5zM467 148h1.5v108.7h-1.5zM467.5 144.9h1.5v122.7h-1.5zM468 137.7h1.5v125.6h-1.5zM468.5 133.8h1.5v124.3h-1.5zM469 167h1.5v102.7h-1.5zM469.5 166.8h1.5v97.9h-1.5zM470 159.6h1.5v109.1h-1.5zM470.5 165.5h1.5v90.9h-1.5zM471 136.3h1.5v118.1h-1.5zM471.5 166.7h1.5v91.8h-1.5zM472 167.3h1.5v104.8h-1.5zM472.5 146.2h1.5v103.8h-1.5zM473 153.7h1.5v119.3h-1.5zM473.5 163.3h1.5v86.4h-1.5zM474 140h1.5v129.9h-1.5zM474.5 137.7h1.5v133.8h-1.5zM475 157.5h1.5v113.4h-1.5zM475.5 102h1.5v168.5h-1.5zM476 148.4h1.5v115h-1.5zM476.5 165.7h1.5v101.6h-1.5zM477 117.8h1.5v132.3h-1.5zM477.5 153.4h1.5v110h-1.5zM478 165h1.5v90h-1.5zM478.5 136.8h1.5v137.3h-1.5zM479 148.6h1.5v110h-1.5zM479.5 151.4h1.5v118.5h-1.5zM480 151.3h1.5v116.7h-1.5zM480.5 130.3h1.5v137.7h-1.5zM481 143.7h1.5v117.5h-1.5zM481.5 162.8h1.5v107.9h-1.5zM482 138h1.5v123h-1.5zM482.5 149.8h1.5v113.2h-1.5zM483 154.9h1.5v96.4h-1.5zM483.5 153.4h1.5v109h-1.5zM484 150.9h1.5v122.4h-1.5zM484.5 130.1h1.5v137.3h-1.5zM485 138.8h1.5v122.4h-1.5zM485.5 150.7h1.5v109.5h-1.5zM486 141h1.5v111h-1.5zM486.5 148.4h1.5v120h-1.5zM487 162.7h1.5v102.7h-1.5zM487.5 166.6h1.5v92.5h-1.5zM488 152.5h1.5v117h-1.5zM488.5 141.8h1.5v111.7h-1.5zM489 149.4h1.5v125h-1.5zM489.5 145.5h1.5v105h-1.5zM490 165.9h1.5v107.5h-1.5zM490.5 140.8h1.5v131.6h-1.5zM491 151.9h1.5v111.3h-1.5zM491.5 138.8h1.5v134.7h-1.5zM492 155.5h1.5v111.1h-1.5zM492.5 167.3h1.5v102.1h-1.5zM493 161.8h1.5v97.7h-1.5zM493.5 145.9h1.5v119.8h-1.5zM494 141.3h1.5v130.6h-1.5zM494.5 148.2h1.5v102.3h-1.5zM495 163.9h1.5v99.8h-1.5zM495.5 165.3h1.5v85.2h-1.5zM496 148.4h1.5v127.1h-1.5zM496.5 163.9h1.5v111.8h-1.5zM497 163.5h1.5v98.9h-1.5zM497.5 152.7h1.5v113.5h-1.5zM498 126.7h1.5v148.6h-1.5zM498.5 156.2h1.5v100.7h-1.5zM499 158h1.5v109h-1.5zM499.5 144.3h1.5v131.5h-1.5zM500 150.6h1.5v106.3h-1.5zM500.5 151h1.5v129.8h-1.5zM501 127.6h1.5v148.7h-1.5zM501.5 158.5h1.5v107.2h-1.5zM502 148.2h1.5v129.5h-1.5zM502.5 140.3h1.5v138.5h-1.5zM503 161h1.5v124.5h-1.5zM503.5 145.2h1.5v121.3h-1.5zM504 136.7h1.5v142.9h-1.5zM504.5 156.3h1.5v113.9h-1.5zM505 150.7h1.5v126.6h-1.5zM505.5 154.5h1.5v125.6h-1.5zM506 142.1h1.5v137.7h-1.5zM506.5 144.3h1.5v132.8h-1.5zM507 148.6h1.5v133.6h-1.5zM507.5 153.5h1.5v131.1h-1.5zM508 162.6h1.5v117.6h-1.5zM508.5 167.5h1.5v112.7h-1.5zM509 133.4h1.5v140.2h-1.5zM509.5 153.5h1.5v135.2h-1.5zM510 137.9h1.5v138.9h-1.5zM510.5 138.6h1.5v155.4h-1.5zM511 153.6h1.5v135.4h-1.5zM511.5 131.3h1.5v139.7h-1.5zM512 162.1h1.5v121.9h-1.5zM512.5 156.9h1.5v119.5h-1.5zM513 125.9h1.5v144.7h-1.5zM513.5 148.2h1.5v123.1h-1.5zM514 141.1h1.5v141.4h-1.5zM514.5 128.4h1.5v139.4h-1.5zM515 155.5h1.5v117.3h-1.5zM515.5 148.7h1.5v123.1h-1.5zM516 149.7h1.5v124.8h-1.5zM516.5 134.7h1.5v127.8h-1.5zM517 149.9h1.5v119.8h-1.5zM517.5 139.8h1.5v133.7h-1.5zM518 157.7h1.5v111.7h-1.5zM518.5 144.2h1.5v134h-1.5zM519 128.8h1.5v139.5h-1.5zM519.5 154.7h1.5v118.1h-1.5zM520 135.5h1.5v145.9h-1.5zM520.5 119.7h1.5v161h-1.5zM521 120.5h1.5v147.6h-1.5zM521.5 94h1.5v171.1h-1.5zM522 119.1h1.5v156.2h-1.5zM522.5 127.3h1.5v151.6h-1.5zM523 111.5h1.5v165.6h-1.5zM523.5 120.9h1.5v161.5h-1.5zM524 136.7h1.5v140.6h-1.5zM524.5 127.1h1.5v143.6h-1.5zM525 128.1h1.5v141.8h-1.5zM525.5 97h1.5v170.8h-1.5zM526 131.4h1.5v148.3h-1.5zM526.5 115.7h1.5v163.2h-1.5zM527 132.1h1.5v143.9h-1.5zM527.5 135.6h1.5v137.6h-1.5zM528 117h1.5v168.6h-1.5zM528.5 112.8h1.5v154.9h-1.5zM529 113.7h1.5v157.7h-1.5zM529.5 76h1.5v187.5h-1.5zM530 139.6h1.5v124.9h-1.5zM530.5 114.4h1.5v156.5h-1.5zM531 117.6h1.5v169.6h-1.5zM531.5 127.9h1.5v146.6h-1.5zM532 140.5h1.5v133h-1.5zM532.5 146.7h1.5v119h-1.5zM533 123h1.5v145.1h-1.5zM533.5 120.8h1.5v151h-1.5zM534 107.2h1.5v164.7h-1.5zM534.5 149.8h1.5v114.3h-1.5zM535 147.5h1.5v120h-1.5zM535.5 139.4h1.5v136.6h-1.5zM536 122.8h1.5v157.2h-1.5zM536.5 101h1.5v169.2h-1.5zM537 113h1.5v161.2h-1.5zM537.5 114.9h1.5v169.9h-1.5zM538 140.3h1.5v141.7h-1.5zM538.5 137.1h1.5v130.5h-1.5zM539 94.7h1.5v191.7h-1.5zM539.5 125.8h1.5v164.1h-1.5zM540 125.3h1.5v145.2h-1.5zM540.5 146h1.5v117.2h-1.5zM541 116.3h1.5v148.7h-1.5zM541.5 137.2h1.5v150.6h-1.5zM542 146.5h1.5v123.2h-1.5zM542.5 118.2h1.5v166.3h-1.5zM543 139.2h1.5v137.5h-1.5zM543.5 117.3h1.5v156.2h-1.5zM544 124.1h1.5v162.2h-1.5zM544.5 92h1.5v172h-1.5zM545 116.9h1.5v148.9h-1.5zM545.5 122.7h1.5v137.1h-1.5zM546 106.9h1.5v162.5h-1.5zM546.5 113.4h1.5v167.5h-1.5zM547 147.7h1.5v128h-1.5zM547.5 115.4h1.5v152.6h-1.5zM548 106.6h1.5v158.7h-1.5zM548.5 104.2h1.5v152.7h-1.5zM549 104.3h1.5v173.1h-1.5zM549.5 146.8h1.5v109.8h-1.5zM550 103.1h1.5v173.2h-1.5zM550.5 103.1h1.5v177h-1.5zM551 116.8h1.5v153.7h-1.5zM551.5 142.3h1.5v143.7h-1.5zM552 120.4h1.5v165.8h-1.5zM552.5 82h1.5v182.2h-1.5zM553 139.2h1.5v133.6h-1.5zM553.5 125.4h1.5v133.3h-1.5zM554 139.3h1.5v130.6h-1.5zM554.5 130h1.5v139.7h-1.5zM555 114.9h1.5v151.4h-1.5zM555.5 127.4h1.5v130.5h-1.5zM556 108h1.5v170.7h-1.5zM556.5 102.2h1.5v179.6h-1.5zM557 120.2h1.5v159.4h-1.5zM557.5 104.9h1.5v183.2h-1.5zM558 115.5h1.5v160.6h-1.5zM558.5 117.3h1.5v152.1h-1.5zM559 118h1.5v157.5h-1.5zM559.5 128.2h1.5v129.6h-1.5zM560 121.3h1.5v151.7h-1.5zM560.5 116.8h1.5v169.2h-1.5zM561 117.9h1.5v148.8h-1.5zM561.5 97.5h1.5v181.5h-1.5zM562 120.5h1.5v153.9h-1.5zM562.5 116.6h1.5v163.2h-1.5zM563 128.4h1.5v154.9h-1.5zM563.5 102.7h1.5v180.5h-1.5zM564 121.8h1.5v154.2h-1.5zM564.5 145.8h1.5v111.7h-1.5zM565 115.9h1.5v160.2h-1.5zM565.5 135.5h1.5v140.6h-1.5zM566 118.2h1.5v163.2h-1.5zM566.5 132.5h1.5v141.2h-1.5zM567 123.1h1.5v137.5h-1.5zM567.5 128.4h1.5v124.9h-1.5zM568 138h1.5v114.3h-1.5zM568.5 135.3h1.5v117.9h-1.5zM569 115.2h1.5v136.7h-1.5zM569.5 117.1h1.5v143.2h-1.5zM570 133.1h1.5v154.3h-1.5zM570.5 138.1h1.5v158.4h-1.5zM571 97.4h1.5v180.7h-1.5zM571.5 105h1.5v178h-1.5zM572 130.9h1.5v156.3h-1.5zM572.5 104.8h1.5v180.9h-1.5zM573 134h1.5v161.5h-1.5zM573.5 120.3h1.5v161.6h-1.5zM574 131.3h1.5v158.2h-1.5zM574.5 65.5h1.5v216.6h-1.5zM575 102h1.5v187.7h-1.5zM575.5 145.1h1.5v140.4h-1.5zM576 98.3h1.5v186.9h-1.5zM576.5 130.8h1.5v155h-1.5zM577 142.6h1.5v126.9h-1.5zM577.5 83.7h1.5v207h-1.5zM578 117.3h1.5v148.9h-1.5zM578.5 111.6h1.5v154.5h-1.5zM579 111.1h1.5v175.6h-1.5zM579.5 140.1h1.5v126.5h-1.5zM580 117.3h1.5v174.4h-1.5zM580.5 122.2h1.5v163.4h-1.5zM581 118.7h1.5v169h-1.5zM581.5 119.8h1.5v161.1h-1.5zM582 127.8h1.5v161.2h-1.5zM582.5 101.8h1.5v167.9h-1.5zM583 95.1h1.5v179.3h-1.5zM583.5 134.8h1.5v162.3h-1.5zM584 139.9h1.5v150.6h-1.5zM584.5 143.6h1.5v137.8h-1.5zM585 110.7h1.5v176.9h-1.5zM585.5 108h1.5v160.1h-1.5zM586 130.5h1.5v150.5h-1.5zM586.5 118h1.5v159.1h-1.5zM587 127.1h1.5v158.9h-1.5zM587.5 99.2h1.5v167.3h-1.5zM588 120.1h1.5v167.3h-1.5zM588.5 95.6h1.5v179.1h-1.5zM589 110.7h1.5v176.4h-1.5zM589.5 145.1h1.5v128.1h-1.5zM590 132.9h1.5v154.2h-1.5zM590.5 142.5h1.5v133h-1.5zM591 98.4h1.5v168.1h-1.5zM591.5 139.8h1.5v147.6h-1.5zM592 103.5h1.5v169.5h-1.5zM592.5 109.1h1.5v186.6h-1.5zM593 101.5h1.5v189.3h-1.5zM593.5 142.3h1.5v137.5h-1.5zM594 101.9h1.5v180.4h-1.5zM594.5 131.2h1.5v136.7h-1.5zM595 110.2h1.5v164.5h-1.5zM595.5 140.7h1.5v136.4h-1.5zM596 140.1h1.5v128.7h-1.5zM596.5 130.8h1.5v159.3h-1.5zM597 127.4h1.5v163.7h-1.5zM597.5 135h1.5v134.6h-1.5zM598 135.6h1.5v146.1h-1.5zM598.5 133.8h1.5v140.6h-1.5zM599 102.7h1.5v180h-1.5zM599.5 113.1h1.5v174.2h-1.5zM600 102.1h1.5v190.9h-1.5zM600.5 127.3h1.5v164.1h-1.5zM601 112h1.5v173.1h-1.5zM601.5 109.2h1.5v174.3h-1.5zM602 92.5h1.5v178.6h-1.5zM602.5 94.8h1.5v195.5h-1.5zM603 119.4h1.5v153.8h-1.5zM603.5 108.4h1.5v183.2h-1.5zM604 121.1h1.5v169.8h-1.5zM604.5 123.4h1.5v168.7h-1.5zM605 125.8h1.5v159.2h-1.5zM605.5 106.8h1.5v187h-1.5zM606 115.8h1.5v166.2h-1.5zM606.5 131.6h1.5v159.5h-1.5zM607 100.3h1.5v173h-1.5zM607.5 123h1.5v147.1h-1.5zM608 124.3h1.5v144.4h-1.5zM608.5 119.3h1.5v146.8h-1.5zM609 92.3h1.5v183.8h-1.5zM609.5 99.4h1.5v169.2h-1.5zM610 112.3h1.5v171.6h-1.5zM610.5 134h1.5v157.2h-1.5zM611 100.5h1.5v186.8h-1.5zM611.5 118.3h1.5v169h-1.5zM612 112.2h1.5v166h-1.5zM612.5 82.4h1.5v204.4h-1.5zM613 122.7h1.5v157.1h-1.5zM613.5 125.5h1.5v154.8h-1.5zM614 126.8h1.5v144.6h-1.5zM614.5 125.1h1.5v164.2h-1.5zM615 133.2h1.5v155.1h-1.5zM615.5 108.7h1.5v175h-1.5zM616 100.7h1.5v179h-1.5zM616.5 118h1.5v157.5h-1.5zM617 130.5h1.5v161.8h-1.5zM617.5 88.8h1.5v193.3h-1.5zM618 108.8h1.5v176.7h-1.5zM618.5 114.9h1.5v157.9h-1.5zM619 109.6h1.5v160.6h-1.5zM619.5 117h1.5v153.4h-1.5zM620 117.3h1.5v152.6h-1.5zM620.5 114.4h1.5v166.4h-1.5zM621 95h1.5v195.7h-1.5zM621.5 132.4h1.5v140.4h-1.5zM622 114.3h1.5v165.4h-1.5zM622.5 111.5h1.5v170.4h-1.5zM623 98h1.5v191.2h-1.5zM623.5 131.1h1.5v167.9h-1.5zM624 87.3h1.5v179.5h-1.5zM624.5 107h1.5v175.2h-1.5zM625 98.9h1.5v191.8h-1.5zM625.5 114.7h1.5v180.6h-1.5zM626 106.6h1.5v181.1h-1.5zM626.5 95.1h1.5v187.7h-1.5zM627 91.1h1.5v185h-1.5zM627.5 106.8h1.5v173.1h-1.5zM628 90.5h1.5v192.5h-1.5zM628.5 113.3h1.5v176h-1.5zM629 114.9h1.5v177.8h-1.5zM629.5 116.4h1.5v166.1h-1.5zM630 103.8h1.5v169.1h-1.5zM630.5 107.5h1.5v172.2h-1.5zM631 125.6h1.5v160.8h-1.5zM631.5 76.7h1.5v214.1h-1.5zM632 112.2h1.5v177.4h-1.5zM632.5 89.8h1.5v186.3h-1.5zM633 114.3h1.5v181.3h-1.5zM633.5 133h1.5v138.4h-1.5zM634 93.7h1.5v189.2h-1.5zM634.5 96.4h1.5v195.8h-1.5zM635 119.4h1.5v162.8h-1.5zM635.5 122.6h1.5v163.6h-1.5zM636 115.1h1.5v165.4h-1.5zM636.5 129.7h1.5v134.9h-1.5zM637 97.7h1.5v153.8h-1.5zM637.5 109.1h1.5v143h-1.5zM638 112.1h1.5v139.3h-1.5zM638.5 97h1.5v154.4h-1.5zM639 106.7h1.5v143.8h-1.5zM639.5 128.3h1.5v122.5h-1.5zM640 121.2h1.5v131.4h-1.5zM640.5 131.1h1.5v121.7h-1.5zM641 111h1.5v139.4h-1.5zM641.5 114.1h1.5v144h-1.5zM642 91.1h1.5v182.3h-1.5zM642.5 111.3h1.5v179.5h-1.5zM643 131.2h1.5v139.6h-1.5zM643.5 111.7h1.5v166.2h-1.5zM644 94.1h1.5v192.4h-1.5zM644.5 103.5h1.5v169.5h-1.5zM645 90.8h1.5v200.2h-1.5zM645.5 103.7h1.5v169.1h-1.5zM646 99.9h1.5v189.3h-1.5zM646.5 85.6h1.5v187.8h-1.5zM647 93.6h1.5v198.4h-1.5zM647.5 103.5h1.5v172.8h-1.5zM648 114.2h1.5v162.4h-1.5zM648.5 115.5h1.5v170h-1.5zM649 100.5h1.5v179.9h-1.5zM649.5 98.6h1.5v190.7h-1.5zM650 124h1.5v148.3h-1.5zM650.5 98.9h1.5v171.2h-1.5zM651 125h1.5v147.2h-1.5zM651.5 87.8h1.5v202.8h-1.5zM652 123.1h1.5v147.4h-1.5zM652.5 90.6h1.5v196.3h-1.5zM653 109.1h1.5v181.4h-1.5zM653.5 80h1.5v202.7h-1.5zM654 83h1.5v194.8h-1.5zM654.5 94.3h1.5v177.9h-1.5zM655 122.6h1.5v167.4h-1.5zM655.5 103.1h1.5v177.4h-1.5zM656 83.3h1.5v198.1h-1.5zM656.5 72h1.5v223h-1.5zM657 121.6h1.5v153.8h-1.5zM657.5 108.6h1.5v171.2h-1.5zM658 101.9h1.5v179h-1.5zM658.5 96.7h1.5v179.6h-1.5zM659 97.3h1.5v175.8h-1.5zM659.5 88.9h1.5v195.8h-1.5zM660 91.4h1.5v185.6h-1.5zM660.5 107h1.5v180.2h-1.5zM661 86.6h1.5v186.4h-1.5zM661.5 62.5h1.5v212.9h-1.5zM662 122.5h1.5v160.5h-1.5zM662.5 124.8h1.5v155h-1.5zM663 114.5h1.5v166.6h-1.5zM663.5 121.1h1.5v160.6h-1.5zM664 121.5h1.5v162.6h-1.5zM664.5 105.2h1.5v175.6h-1.5zM665 104.3h1.5v175.4h-1.5zM665.5 96.3h1.5v190.6h-1.5zM666 113h1.5v167.3h-1.5zM666.5 70h1.5v217h-1.5zM667 92.1h1.5v202.8h-1.5zM667.5 121.4h1.5v159.8h-1.5zM668 124h1.5v150.4h-1.5zM668.5 75.1h1.5v211.1h-1.5zM669 120.7h1.5v173.9h-1.5zM669.5 122.5h1.5v163h-1.5zM670 104.8h1.5v181.9h-1.5zM670.5 73.6h1.5v213.3h-1.5zM671 67.1h1.5v201.6h-1.5zM671.5 111.3h1.5v175.9h-1.5zM672 100.3h1.5v180.6h-1.5zM672.5 95.3h1.5v192.3h-1.5zM673 116.4h1.5v168.2h-1.5zM673.5 85.6h1.5v201.7h-1.5zM674 100.7h1.5v191h-1.5zM674.5 101.5h1.5v180.4h-1.5zM675 110.2h1.5v177.5h-1.5zM675.5 108.9h1.5v163h-1.5zM676 80.1h1.5v192.1h-1.5zM676.5 111.3h1.5v166h-1.5zM677 102.2h1.5v180.8h-1.5zM677.5 92.9h1.5v196.7h-1.5zM678 90.9h1.5v179.1h-1.5zM678.5 119.8h1.5v175.3h-1.5zM679 102.6h1.5v180.6h-1.5zM679.5 80h1.5v202.5h-1.5zM680 122.4h1.5v166.3h-1.5zM680.5 95h1.5v189.3h-1.5zM681 89.1h1.5v197.2h-1.5zM681.5 104.1h1.5v182.3h-1.5zM682 79.5h1.5v199.6h-1.5zM682.5 91h1.5v201.1h-1.5zM683 78.6h1.5v194.7h-1.5zM683.5 68.9h1.5v214.7h-1.5zM684 104.2h1.5v168.1h-1.5zM684.5 85.8h1.5v191.9h-1.5zM685 90.2h1.5v187.7h-1.5zM685.5 88.2h1.5v189.7h-1.5zM686 104.1h1.5v178.7h-1.5zM686.5 109.5h1.5v166.7h-1.5zM687 101.9h1.5v188.6h-1.5zM687.5 66h1.5v205.6h-1.5zM688 108.4h1.5v182.2h-1.5zM688.5 123.3h1.5v156.5h-1.5zM689 95.3h1.5v185.4h-1.5zM689.5 77.4h1.5v208.3h-1.5zM690 124.2h1.5v165.5h-1.5zM690.5 99.6h1.5v184.8h-1.5zM691 72.6h1.5v203.6h-1.5zM691.5 122.1h1.5v151.8h-1.5zM692 94.6h1.5v199.5h-1.5zM692.5 72h1.5v208.4h-1.5zM693 110.9h1.5v166.8h-1.5zM693.5 119.3h1.5v157.9h-1.5zM694 106.4h1.5v170.4h-1.5zM694.5 81.7h1.5v198.6h-1.5zM695 103.1h1.5v179.9h-1.5zM695.5 83.3h1.5v202.1h-1.5zM696 85.2h1.5v206.6h-1.5zM696.5 85.6h1.5v193.2h-1.5zM697 106.1h1.5v165.5h-1.5zM697.5 117.1h1.5v162.2h-1.5zM698 80.9h1.5v201.8h-1.5zM698.5 100.7h1.5v175.4h-1.5zM699 97.9h1.5v188.1h-1.5zM699.5 106.2h1.5v180.9h-1.5zM700 125.3h1.5v155h-1.5zM700.5 102.8h1.5v186.1h-1.5zM701 118.3h1.5v157.1h-1.5zM701.5 97.7h1.5v190.3h-1.5zM702 119.3h1.5v155.3h-1.5zM702.5 133.5h1.5v153.7h-1.5zM703 132.7h1.5v142.2h-1.5zM703.5 131.6h1.5v142.4h-1.5zM704 87.6h1.5v196.8h-1.5zM704.5 113.2h1.5v170.7h-1.5zM705 107.8h1.5v181.4h-1.5zM705.5 124.2h1.5v151.7h-1.5zM706 105.7h1.5v166.3h-1.5zM706.5 60.5h1.5v219.3h-1.5zM707 135.7h1.5v136.3h-1.5zM707.5 116.2h1.5v172.6h-1.5zM708 120.6h1.5v171.8h-1.5zM708.5 81.6h1.5v203.7h-1.5zM709 109.4h1.5v154.7h-1.5zM709.5 70h1.5v181.9h-1.5zM710 118.6h1.5v130.4h-1.5zM710.5 96.4h1.5v151.4h-1.5zM711 97h1.5v151.4h-1.5zM711.5 123h1.5v136.7h-1.5zM712 102.3h1.5v179.6h-1.5zM712.5 79h1.5v195.9h-1.5zM713 129h1.5v151.7h-1.5zM713.5 138.6h1.5v123.1h-1.5zM714 119.9h1.5v157.7h-1.5zM714.5 102h1.5v182h-1.5zM715 111.3h1.5v169.1h-1.5zM715.5 118h1.5v160.7h-1.5zM716 76.5h1.5v197h-1.5zM716.5 104.2h1.5v172.5h-1.5zM717 119.9h1.5v156.1h-1.5zM717.5 115.9h1.5v151.8h-1.5zM718 118.9h1.5v140.9h-1.5zM718.5 119h1.5v152.3h-1.5zM719 115.8h1.5v149.7h-1.5zM719.5 104h1.5v161.9h-1.5zM720 96.6h1.5v178h-1.5zM720.5 115.7h1.5v154.5h-1.5zM721 107.5h1.5v161.5h-1.5zM721.5 84.6h1.5v182.5h-1.5zM722 123.7h1.5v150.9h-1.5zM722.5 100.1h1.5v161.9h-1.5zM723 139.8h1.5v139h-1.5zM723.5 120h1.5v145h-1.5zM724 120.4h1.5v141.5h-1.5zM724.5 122.3h1.5v158.3h-1.5zM725 105h1.5v147.5h-1.5zM725.5 140.2h1.5v122.4h-1.5zM726 100.1h1.5v166.3h-1.5zM726.5 142.1h1.5v109.1h-1.5zM727 146h1.5v116.3h-1.5zM727.5 143.3h1.5v117.3h-1.5zM728 142.2h1.5v133.8h-1.5zM728.5 144.4h1.5v126.5h-1.5zM729 136.6h1.5v112.5h-1.5zM729.5 161.6h1.5v102.2h-1.5zM730 146.9h1.5v104.5h-1.5zM730.5 163.4h1.5v110.7h-1.5zM731 151.1h1.5v107.4h-1.5zM731.5 159.3h1.5v103.1h-1.5zM732 153.9h1.5v118.5h-1.5zM732.5 151.3h1.5v113.7h-1.5zM733 162.9h1.5v98.5h-1.5zM733.5 154.7h1.5v107.5h-1.5zM734 166.2h1.5v106.8h-1.5zM734.5 169.8h1.5v112.2h-1.5zM735 158.8h1.5v112.2h-1.5zM735.5 143.3h1.5v115.6h-1.5zM736 133.2h1.5v141.8h-1.5zM736.5 142.5h1.5v118.8h-1.5zM737 135.7h1.5v116.6h-1.5zM737.5 111.2h1.5v141.6h-1.5zM738 121.7h1.5v126h-1.5zM738.5 112.9h1.5v133.8h-1.5zM739 77.3h1.5v182.1h-1.5zM739.5 79.9h1.5v38.4h-1.5zM740 75.6h1.5v43.6h-1.5zM740.5 68.4h1.5v48.4h-1.5zM741 69.9h1.5v45.8h-1.5zM741.5 70.9h1.5v50.3h-1.5zM742 71h1.5v38.8h-1.5zM742.5 74.5h1.5v41.4h-1.5zM743 74.2h1.5v34.6h-1.5zM743.5 78.5h1.5v39.5h-1.5zM744 70.4h1.5v48.8h-1.5zM744.5 70.2h1.5v47.6h-1.5zM745 69.5h1.5v50.3h-1.5zM745.5 69.5h1.5v49.2h-1.5zM746 73.9h1.5v46.6h-1.5zM746.5 75.3h1.5v40.3h-1.5zM747 73.7h1.5v45.8h-1.5zM747.5 70.4h1.5v49.4h-1.5zM748 75.9h1.5v44.6h-1.5zM748.5 70h1.5v46.2h-1.5zM749 78.8h1.5v38.3h-1.5zM749.5 70.2h1.5v50.8h-1.5zM750 83.2h1.5v38.3h-1.5zM750.5 67.9h1.5v47.8h-1.5zM751 72.9h1.5v43.7h-1.5zM751.5 68.9h1.5v51.5h-1.5zM752 78.4h1.5v41.6h-1.5zM752.5 79.5h1.5v41.4h-1.5zM753 74.8h1.5v41.3h-1.5zM753.5 69.6h1.5v49.9h-1.5zM754 79.8h1.5v41.4h-1.5zM754.5 75h1.5v41.8h-1.5zM755 65.6h1.5v50h-1.5zM755.5 71h1.5v45.2h-1.5zM756 74.9h1.5v44.1h-1.5zM756.5 80.8h1.5v37.1h-1.5zM757 74.3h1.5v45.5h-1.5zM757.5 78.6h1.5v43.8h-1.5zM758 72.5h1.5v45.8h-1.5zM758.5 72.9h1.5v44h-1.5zM759 70.5h1.5v45.8h-1.5zM759.5 71.9h1.5v49.2h-1.5zM760 76.2h1.5v42.1h-1.5zM760.5 69.2h1.5v39.6h-1.5zM761 76.3h1.5v40.7h-1.5zM761.5 74.5h1.5v42h-1.5zM762 73.9h1.5v46.1h-1.5zM762.5 75.3h1.5v42.2h-1.5zM763 81.3h1.5v36.4h-1.5zM763.5 69.9h1.5v51.3h-1.5zM764 71.8h1.5v50.7h-1.5zM764.5 74.5h1.5v44.2h-1.5zM765 75.6h1.5v42.8h-1.5zM765.5 80.7h1.5v41.7h-1.5zM766 68.8h1.5v47.9h-1.5zM766.5 75.9h1.5v33.9h-1.5zM767 74.2h1.5v40.5h-1.5zM767.5 78.7h1.5v44h-1.5zM768 78.8h1.5v39.1h-1.5zM768.5 75h1.5v42h-1.5zM769 79.2h1.5v38.3h-1.5zM769.5 73.7h1.5v42.2h-1.5zM770 69.9h1.5v48.9h-1.5zM770.5 75.9h1.5v44.2h-1.5zM771 73.1h1.5v37.7h-1.5zM771.5 76.4h1.5v45.5h-1.5zM772 69.9h1.5v49.2h-1.5zM772.5 70.3h1.5v45.9h-1.5zM773 71.3h1.5v45.9h-1.5zM773.5 77.4h1.5v45h-1.5zM774 74.2h1.5v45.5h-1.5zM774.5 76.5h1.5v42.8h-1.5zM775 76.4h1.5v45.9h-1.5zM775.5 78.5h1.5v38.9h-1.5zM776 83.6h1.5v34.7h-1.5zM776.5 81.6h1.5v36.9h-1.5zM777 83.2h1.5v36.1h-1.5zM777.5 83.3h1.5v37.4h-1.5zM778 77.9h1.5v40.9h-1.5zM778.5 77.5h1.5v44.8h-1.5zM779 79.6h1.5v40.5h-1.5zM779.5 79.6h1.5v39.1h-1.5zM780 82.2h1.5v41.4h-1.5zM780.5 85.6h1.5v33.1h-1.5zM781 81.2h1.5v39.1h-1.5zM781.5 84.1h1.5v33.7h-1.5zM782 79.6h1.5v43.3h-1.5zM782.5 86.9h1.5v29h-1.5zM783 88h1.5v30.6h-1.5zM783.5 80h1.5v31.5h-1.5zM784 80.2h1.5v40.9h-1.5zM784.5 84.9h1.5v36.9h-1.5zM785 79.9h1.5v39.1h-1.5zM785.5 84.1h1.5v34.5h-1.5zM786 78.1h1.5v42.4h-1.5zM786.5 79.8h1.5v41h-1.5zM787 80.9h1.5v39.1h-1.5zM787.5 78.6h1.5v35.7h-1.5zM788 87.3h1.5v28h-1.5zM788.5 81h1.5v37.5h-1.5zM789 80.3h1.5v43.8h-1.5zM789.5 85.3h1.5v38.7h-1.5zM790 77.8h1.5v41.5h-1.5zM790.5 83.7h1.5v39.8h-1.5zM791 87.7h1.5v36.8h-1.5zM791.5 81.4h1.5v43.6h-1.5zM792 80.5h1.5v45.2h-1.5zM792.5 85.1h1.5v26.8h-1.5zM793 92.6h1.5v28.1h-1.5zM793.5 85h1.5v36h-1.5zM794 85h1.5v39.8h-1.5zM794.5 82.2h1.5v49.1h-1.5zM795 87.8h1.5v41.7h-1.5zM795.5 84.5h1.5v47.2h-1.5zM796 95.2h1.5v37.5h-1.5zM796.5 83.8h1.5v52.1h-1.5zM797 91.7h1.5v47.3h-1.5zM797.5 97.9h1.5v44.7h-1.5zM798 88.9h1.5v50h-1.5zM798.5 91.9h1.5v55.1h-1.5zM799 87.2h1.5v52.5h-1.5zM799.5 87.1h1.5v42.7h-1.5zM800 91.7h1.5v50.1h-1.5zM800.5 87.6h1.5v54.6h-1.5zM801 92.1h1.5v46.9h-1.5zM801.5 84.2h1.5v52.9h-1.5zM802 87.6h1.5v50.8h-1.5zM802.5 94.1h1.5v35.8h-1.5zM803 86.4h1.5v54.2h-1.5zM803.5 63.8h1.5v73.2h-1.5zM804 100.7h1.5v43.8h-1.5zM804.5 93.8h1.5v39.5h-1.5zM805 91.3h1.5v38.6h-1.5zM805.5 88.1h1.5v56.2h-1.5zM806 96.8h1.5v40.1h-1.5zM806.5 86.1h1.5v57.9h-1.5zM807 92.4h1.5v52.7h-1.5zM807.5 76h1.5v68.9h-1.5zM808 82.8h1.5v54.7h-1.5zM808.5 93.6h1.5v45.5h-1.5zM809 94.1h1.5v47.4h-1.5zM809.5 89.5h1.5v50.3h-1.5zM810 88.6h1.5v51.8h-1.5zM810.5 88.4h1.5v52.8h-1.5zM811 94.7h1.5v50h-1.5zM811.5 101.1h1.5v41.5h-1.5zM812 94.3h1.5v51.1h-1.5zM812.5 92.7h1.5v50.4h-1.5zM813 101.1h1.5v39.4h-1.5zM813.5 92.6h1.5v47h-1.5zM814 89.1h1.5v48.6h-1.5zM814.5 94.9h1.5v47.8h-1.5zM815 85.8h1.5v48.3h-1.5zM815.5 91.1h1.5v53.3h-1.5zM816 87.4h1.5v53.5h-1.5zM816.5 92.6h1.5v37.7h-1.5zM817 93.3h1.5v44h-1.5zM817.5 101.2h1.5v37.1h-1.5zM818 98.5h1.5v43.1h-1.5zM818.5 87.6h1.5v53.4h-1.5zM819 86.3h1.5v48.6h-1.5zM819.5 87.6h1.5v50.1h-1.5zM820 85.7h1.5v55.8h-1.5zM820.5 89.4h1.5v52.4h-1.5zM821 86.1h1.5v52.7h-1.5zM821.5 94.2h1.5v51h-1.5zM822 91h1.5v39.5h-1.5zM822.5 88.8h1.5v50h-1.5zM823 85.1h1.5v53.5h-1.5zM823.5 70h1.5v68h-1.5zM824 88h1.5v55.3h-1.5zM824.5 100.8h1.5v40.6h-1.5zM825 88.3h1.5v56.2h-1.5zM825.5 100.6h1.5v44.6h-1.5zM826 87h1.5v54.4h-1.5zM826.5 85h1.5v54h-1.5zM827 98h1.5v45.2h-1.5zM827.5 93.4h1.5v51h-1.5zM828 92.5h1.5v52h-1.5zM828.5 93.4h1.5v51.9h-1.5zM829 92.7h1.5v50.8h-1.5zM829.5 77h1.5v57.3h-1.5zM830 92.8h1.5v54.5h-1.5zM830.5 89.1h1.5v49.1h-1.5zM831 85h1.5v57.1h-1.5zM831.5 93.9h1.5v51.4h-1.5zM832 94.7h1.5v46.9h-1.5zM832.5 101.2h1.5v40h-1.5zM833 91.2h1.5v48.9h-1.5zM833.5 90.5h1.5v53.7h-1.5zM834 88.9h1.5v56h-1.5zM834.5 95.1h1.5v54h-1.5zM835 97.1h1.5v50.9h-1.5zM835.5 97.2h1.5v52.3h-1.5zM836 93.1h1.5v44.9h-1.5zM836.5 91.6h1.5v58.2h-1.5zM837 102.9h1.5v44.5h-1.5zM837.5 99.1h1.5v41.2h-1.5zM838 95.3h1.5v42h-1.5zM838.5 89.1h1.5v61.1h-1.5zM839 92h1.5v50.8h-1.5zM839.5 91.1h1.5v44.3h-1.5zM840 104.5h1.5v45.4h-1.5zM840.5 92.1h1.5v53.5h-1.5zM841 95.8h1.5v46.8h-1.5zM841.5 93.2h1.5v52.4h-1.5zM842 101.9h1.5v42h-1.5zM842.5 95.5h1.5v53.3h-1.5zM843 92.3h1.5v51.3h-1.5zM843.5 96.5h1.5v51.2h-1.5zM844 94.5h1.5v53.1h-1.5zM844.5 90.7h1.5v54.3h-1.5zM845 89.8h1.5v46.8h-1.5zM845.5 94h1.5v49.8h-1.5zM846 91.5h1.5v56.4h-1.5zM846.5 92.3h1.5v45.5h-1.5zM847 96.7h1.5v49.1h-1.5zM847.5 90.5h1.5v56.7h-1.5zM848 92.1h1.5v58.5h-1.5zM848.75 109.2h1.5v136.3h-1.5zM849.25 105.6h1.5v135.5h-1.5zM849.75 119.4h1.5v103h-1.5zM850.25 124.1h1.5v103.6h-1.5zM850.75 122.6h1.5v100.6h-1.5zM851.25 113.4h1.5v120.9h-1.5zM851.75 127.7h1.5v93h-1.5zM852.25 107.7h1.5v133.3h-1.5zM852.75 94.3h1.5v139.5h-1.5zM853.25 128.7h1.5v114h-1.5zM853.75 125.9h1.5v107.4h-1.5zM854.25 125.5h1.5v95h-1.5zM854.75 134.3h1.5v103.8h-1.5zM855.25 122.1h1.5v104.7h-1.5zM855.75 117.7h1.5v103.9h-1.5zM856.25 106.8h1.5v123.4h-1.5zM856.75 111.1h1.5v126.7h-1.5zM857.25 126.8h1.5v116.8h-1.5zM857.75 84.5h1.5v144.2h-1.5zM858.25 110.3h1.5v116.5h-1.5zM858.75 89.3h1.5v147.5h-1.5zM859.25 94.6h1.5v152.4h-1.5zM859.75 135.2h1.5v108.8h-1.5zM860.25 123.5h1.5v105.2h-1.5zM860.75 133h1.5v100.4h-1.5zM861.25 128.4h1.5v102h-1.5zM861.75 108.3h1.5v124.8h-1.5zM862.25 124h1.5v118.1h-1.5zM862.75 119.4h1.5v114.7h-1.5zM863.25 126.7h1.5v101.7h-1.5zM863.75 122.3h1.5v133.5h-1.5zM864.25 123.8h1.5v117.4h-1.5zM864.75 121.7h1.5v117.3h-1.5zM865.25 118.3h1.5v120h-1.5zM865.75 123.6h1.5v122.4h-1.5zM866.25 125.5h1.5v132.6h-1.5zM866.75 104.5h1.5v156.2h-1.5zM867.25 117h1.5v134.4h-1.5zM867.75 86h1.5v154.5h-1.5zM868.25 129.7h1.5v132.1h-1.5zM868.75 107.4h1.5v145h-1.5zM869.25 111.3h1.5v149.7h-1.5zM869.75 112.8h1.5v131.8h-1.5zM870.25 127.5h1.5v127.2h-1.5zM870.75 110.4h1.5v129.6h-1.5zM871.25 123.8h1.5v138.2h-1.5zM871.75 108.3h1.5v147.6h-1.5zM872.25 126.7h1.5v120.6h-1.5zM872.75 115h1.5v134.1h-1.5zM873.25 120.3h1.5v131.5h-1.5zM873.75 107.8h1.5v130.1h-1.5zM874.25 113.8h1.5v124.2h-1.5zM874.75 133.6h1.5v108.2h-1.5zM875.25 125.3h1.5v125.7h-1.5zM875.75 136.8h1.5v98.7h-1.5zM876.25 123.1h1.5v115.1h-1.5zM876.75 128.8h1.5v115.9h-1.5zM877.25 105.8h1.5v135.4h-1.5zM877.75 125.3h1.5v129.6h-1.5zM878.25 116.2h1.5v119.5h-1.5zM878.75 125.6h1.5v123.4h-1.5zM879.25 109.6h1.5v150.9h-1.5zM879.75 128.2h1.5v117.5h-1.5zM880.25 108h1.5v136.4h-1.5zM880.75 134.3h1.5v120.6h-1.5zM881.25 121.6h1.5v138.3h-1.5zM881.75 121.1h1.5v137.8h-1.5zM882.25 107.5h1.5v124h-1.5zM882.75 111.8h1.5v179.2h-1.5zM883.25 126.5h1.5v112.4h-1.5zM883.75 125h1.5v120h-1.5zM884.25 117.9h1.5v125.5h-1.5zM884.75 113.8h1.5v131.4h-1.5zM885.25 107h1.5v140.2h-1.5zM885.75 117.9h1.5v125.5h-1.5zM886.25 121.1h1.5v118.2h-1.5zM886.75 110.7h1.5v129.3h-1.5zM887.25 107.2h1.5v146.3h-1.5zM887.75 126h1.5v130.3h-1.5zM888.25 133.8h1.5v116.1h-1.5zM888.75 135.3h1.5v112.4h-1.5zM889.25 94.7h1.5v163.9h-1.5zM889.75 134.9h1.5v96.8h-1.5zM890.25 134.3h1.5v110.6h-1.5zM890.75 129.8h1.5v116.3h-1.5zM891.25 131.9h1.5v110.4h-1.5zM891.75 119.3h1.5v147.7h-1.5zM892.25 122.8h1.5v113.5h-1.5zM892.75 120.1h1.5v141.8h-1.5zM893.25 134.7h1.5v104.6h-1.5zM893.75 119.5h1.5v127.7h-1.5zM894.25 105h1.5v134.7h-1.5zM894.75 128.5h1.5v111.8h-1.5zM895.25 133.4h1.5v100.9h-1.5zM895.75 133.2h1.5v111.6h-1.5zM896.25 114.9h1.5v149.4h-1.5zM896.75 88h1.5v182.7h-1.5zM897.25 135.6h1.5v125h-1.5zM897.75 120h1.5v124.2h-1.5zM898.25 115.3h1.5v126.8h-1.5zM898.75 113.7h1.5v142.6h-1.5zM899.25 108.1h1.5v142.9h-1.5zM899.75 119.2h1.5v120.4h-1.5zM900.25 118.4h1.5v131.6h-1.5zM900.75 126.2h1.5v127.9h-1.5zM901.25 107.9h1.5v154h-1.5zM901.75 95h1.5v146.2h-1.5zM902.25 125.3h1.5v117.2h-1.5zM902.75 121.1h1.5v110.8h-1.5zM903.25 104.8h1.5v130.5h-1.5zM903.75 125.2h1.5v121.8h-1.5zM904.25 122.1h1.5v119.9h-1.5zM904.75 123.2h1.5v136.2h-1.5zM905.25 128.2h1.5v131.5h-1.5zM905.75 75.5h1.5v164h-1.5zM906.25 108.4h1.5v128.4h-1.5zM906.75 119.9h1.5v121.1h-1.5zM907.25 125h1.5v119.3h-1.5zM907.75 106.1h1.5v130.7h-1.5zM908.25 115.5h1.5v126.7h-1.5zM908.75 102.7h1.5v151.5h-1.5zM909.25 120.8h1.5v140.4h-1.5zM909.75 108.2h1.5v143.9h-1.5zM910.25 115.7h1.5v140.9h-1.5zM910.75 109.8h1.5v130.9h-1.5zM911.25 92h1.5v147.5h-1.5zM911.75 100.7h1.5v131.6h-1.5zM912.25 107.5h1.5v131.7h-1.5zM912.75 106.1h1.5v152.1h-1.5zM913.25 99.8h1.5v134.2h-1.5zM913.75 94h1.5v160.4h-1.5zM914.25 99.9h1.5v140.5h-1.5zM914.75 103.4h1.5v182.6h-1.5zM915.25 93.1h1.5v150.9h-1.5zM915.75 103.6h1.5v141.8h-1.5zM916.25 92.9h1.5v143.8h-1.5zM916.75 89.2h1.5v165.4h-1.5zM917.25 97.7h1.5v131.8h-1.5zM917.75 90.7h1.5v148.4h-1.5zM918.25 109.8h1.5v122.8h-1.5zM918.75 102.4h1.5v130.5h-1.5zM919.25 94.3h1.5v140.7h-1.5zM919.75 104.5h1.5v119.3h-1.5zM920.25 92.5h1.5v143.8h-1.5zM920.75 87.4h1.5v140.6h-1.5zM921.25 90.2h1.5v147.4h-1.5zM921.75 100.1h1.5v145h-1.5zM922.25 88.7h1.5v149.1h-1.5zM922.75 88h1.5v126.8h-1.5zM923.25 92.3h1.5v126h-1.5zM923.75 103.2h1.5v108h-1.5zM924.25 88.7h1.5v142.3h-1.5zM924.75 97.8h1.5v142.7h-1.5zM925.25 91.3h1.5v128.8h-1.5zM925.75 90.7h1.5v143.7h-1.5zM926.25 86.7h1.5v135.7h-1.5zM926.75 91.7h1.5v145.9h-1.5zM927.25 90.2h1.5v142.9h-1.5zM927.75 108h1.5v120.9h-1.5zM928.25 108.4h1.5v110.2h-1.5zM928.75 101.1h1.5v116.1h-1.5zM929.25 97.2h1.5v125.1h-1.5zM929.75 103.6h1.5v114.6h-1.5zM930.25 97.3h1.5v135.6h-1.5zM930.75 91.4h1.5v120.9h-1.5zM931.25 103.4h1.5v134.5h-1.5zM931.75 94.7h1.5v132.4h-1.5zM932.25 100.1h1.5v115.6h-1.5zM932.75 89h1.5v120.9h-1.5zM933.25 94.8h1.5v118.5h-1.5zM933.75 103.8h1.5v116.2h-1.5zM934.25 98.6h1.5v107h-1.5zM934.75 97.4h1.5v113.9h-1.5zM935.25 111.3h1.5v113.3h-1.5zM935.75 103.1h1.5v110.8h-1.5zM936.25 102.9h1.5v125.3h-1.5zM936.75 87.7h1.5v151.9h-1.5zM937.25 100.6h1.5v116.4h-1.5zM937.75 94.3h1.5v154.4h-1.5zM938.25 90.2h1.5v144.4h-1.5zM938.75 72.5h1.5v141.9h-1.5zM939.25 100.6h1.5v136.9h-1.5zM939.75 103.7h1.5v108.8h-1.5zM940.25 109.4h1.5v113.9h-1.5zM940.75 89.5h1.5v131.7h-1.5zM941.25 97.2h1.5v117.2h-1.5zM941.75 98.1h1.5v139.6h-1.5zM942.25 93.2h1.5v138.1h-1.5zM942.75 104.1h1.5v138h-1.5zM943.25 105.7h1.5v111.2h-1.5zM943.75 94.7h1.5v126.1h-1.5zM944.25 108.8h1.5v96.1h-1.5zM944.75 91.1h1.5v145.8h-1.5zM945.25 101.1h1.5v123.5h-1.5zM945.75 97.8h1.5v133.2h-1.5zM946.25 103.1h1.5v103.9h-1.5zM946.75 76.8h1.5v159h-1.5zM947.25 84.7h1.5v132.3h-1.5zM947.75 102.2h1.5v116.2h-1.5zM948.25 82.1h1.5v152.4h-1.5zM948.75 92.3h1.5v143.1h-1.5zM949.25 99h1.5v117h-1.5zM949.75 82h1.5v141.8h-1.5zM950.25 98.4h1.5v133.8h-1.5zM950.75 105.9h1.5v130.7h-1.5zM951.25 93.5h1.5v128.3h-1.5zM951.75 108.9h1.5v106.3h-1.5z" fill="#0072bd"/>
<path d="M831.2 140V226h1.1V140zM832.3 140V237h1.6V140zM833.9 140V231h1.1V140zM835 140V160h.6V140z" fill="#0072bd"/>
</g>
<g stroke="#dedede" stroke-width="1.6" fill="none"><line x1="192.69" y1="428.05" x2="192.69" y2="714.00"/><line x1="301.18" y1="428.05" x2="301.18" y2="714.00"/><line x1="409.66" y1="428.05" x2="409.66" y2="714.00"/><line x1="518.15" y1="428.05" x2="518.15" y2="714.00"/><line x1="626.64" y1="428.05" x2="626.64" y2="714.00"/><line x1="735.12" y1="428.05" x2="735.12" y2="714.00"/><line x1="843.61" y1="428.05" x2="843.61" y2="714.00"/><line x1="84.20" y1="642.75" x2="952.10" y2="642.75"/><line x1="84.20" y1="571.25" x2="952.10" y2="571.25"/><line x1="84.20" y1="499.75" x2="952.10" y2="499.75"/></g>
<g stroke="#222" stroke-width="1.85" fill="none" stroke-linecap="butt"><rect x="84.20" y="428.05" width="867.90" height="285.95"/><line x1="84.20" y1="714.00" x2="84.20" y2="704.20"/><line x1="84.20" y1="428.05" x2="84.20" y2="437.85"/><line x1="192.69" y1="714.00" x2="192.69" y2="704.20"/><line x1="192.69" y1="428.05" x2="192.69" y2="437.85"/><line x1="301.18" y1="714.00" x2="301.18" y2="704.20"/><line x1="301.18" y1="428.05" x2="301.18" y2="437.85"/><line x1="409.66" y1="714.00" x2="409.66" y2="704.20"/><line x1="409.66" y1="428.05" x2="409.66" y2="437.85"/><line x1="518.15" y1="714.00" x2="518.15" y2="704.20"/><line x1="518.15" y1="428.05" x2="518.15" y2="437.85"/><line x1="626.64" y1="714.00" x2="626.64" y2="704.20"/><line x1="626.64" y1="428.05" x2="626.64" y2="437.85"/><line x1="735.12" y1="714.00" x2="735.12" y2="704.20"/><line x1="735.12" y1="428.05" x2="735.12" y2="437.85"/><line x1="843.61" y1="714.00" x2="843.61" y2="704.20"/><line x1="843.61" y1="428.05" x2="843.61" y2="437.85"/><line x1="952.10" y1="714.00" x2="952.10" y2="704.20"/><line x1="952.10" y1="428.05" x2="952.10" y2="437.85"/><line x1="84.20" y1="714.25" x2="94.00" y2="714.25"/><line x1="952.10" y1="714.25" x2="942.30" y2="714.25"/><line x1="84.20" y1="642.75" x2="94.00" y2="642.75"/><line x1="952.10" y1="642.75" x2="942.30" y2="642.75"/><line x1="84.20" y1="571.25" x2="94.00" y2="571.25"/><line x1="952.10" y1="571.25" x2="942.30" y2="571.25"/><line x1="84.20" y1="499.75" x2="94.00" y2="499.75"/><line x1="952.10" y1="499.75" x2="942.30" y2="499.75"/><line x1="84.20" y1="428.25" x2="94.00" y2="428.25"/><line x1="952.10" y1="428.25" x2="942.30" y2="428.25"/></g>
<g id="phase">
<path d="M83.5 441.5h0.5v258.1h-0.5zM84 442.4h0.5v256.5h-0.5zM84.5 441.6h0.5v259.4h-0.5zM85 442.8h0.5v257.4h-0.5zM85.5 442.4h0.5v257.6h-0.5zM86 442.5h0.5v258h-0.5zM86.5 440.2h0.5v260.5h-0.5zM87 442.6h0.5v257.8h-0.5zM87.5 441.9h0.5v257.9h-0.5zM88 442.9h0.5v256.2h-0.5zM88.5 443.1h0.5v257.1h-0.5zM89 442.1h0.5v257.5h-0.5zM89.5 442.3h0.5v258h-0.5zM90 442.9h0.5v257.4h-0.5zM90.5 442.9h0.5v257.9h-0.5zM91 442.6h0.5v258.1h-0.5zM91.5 441.6h0.5v259.1h-0.5zM92 441.2h0.5v258.5h-0.5zM92.5 441.6h0.5v260.6h-0.5zM93 440.9h0.5v259.5h-0.5zM93.5 442.9h0.5v257h-0.5zM94 441.7h0.5v259.9h-0.5zM94.5 441.4h0.5v258.7h-0.5zM95 441.1h0.5v258.4h-0.5zM95.5 443h0.5v256.8h-0.5zM96 442.4h0.5v257.6h-0.5zM96.5 443.1h0.5v256.7h-0.5zM97 441.5h0.5v259.4h-0.5zM97.5 440.7h0.5v259h-0.5zM98 441h0.5v259.1h-0.5zM98.5 442.4h0.5v257.9h-0.5zM99 442.6h0.5v256.3h-0.5zM99.5 442.5h0.5v256.9h-0.5zM100 442.3h0.5v257.3h-0.5zM100.5 441.8h0.5v257.6h-0.5zM101 441.2h0.5v258.9h-0.5zM101.5 441.7h0.5v258.9h-0.5zM102 441.4h0.5v258.9h-0.5zM102.5 441.7h0.5v258.9h-0.5zM103 442.9h0.5v256.7h-0.5zM103.5 442.9h0.5v256.3h-0.5zM104 442.2h0.5v258.4h-0.5zM104.5 441.4h0.5v259.2h-0.5zM105 442.8h0.5v256.3h-0.5zM105.5 442.7h0.5v256.8h-0.5zM106 441.9h0.5v258.9h-0.5zM106.5 441h0.5v259.7h-0.5zM107 442h0.5v258.9h-0.5zM107.5 442.6h0.5v257.6h-0.5zM108 441.6h0.5v257.7h-0.5zM108.5 442.3h0.5v259.8h-0.5zM109 443h0.5v257.8h-0.5zM109.5 443h0.5v255.8h-0.5zM110 441.4h0.5v258.9h-0.5zM110.5 441.9h0.5v258.2h-0.5zM111 441.6h0.5v258.3h-0.5zM111.5 441.8h0.5v258.2h-0.5zM112 441.4h0.5v259.5h-0.5zM112.5 441.3h0.5v258.9h-0.5zM113 441.1h0.5v258.3h-0.5zM113.5 441.9h0.5v260.1h-0.5zM114 441.1h0.5v258h-0.5zM114.5 443.1h0.5v255.8h-0.5zM115 441.7h0.5v257.9h-0.5zM115.5 442.3h0.5v256.9h-0.5zM116 441.3h0.5v259.1h-0.5zM116.5 441.2h0.5v258.4h-0.5zM117 442.7h0.5v257.8h-0.5zM117.5 441.9h0.5v257.9h-0.5zM118 441.9h0.5v257.9h-0.5zM118.5 442.2h0.5v256.8h-0.5zM119 441.9h0.5v258.9h-0.5zM119.5 443h0.5v256.4h-0.5zM120 441.3h0.5v259h-0.5zM120.5 442.7h0.5v257.7h-0.5zM121 441.2h0.5v257.6h-0.5zM121.5 441.2h0.5v257.8h-0.5zM122 442.9h0.5v255.9h-0.5zM122.5 441.3h0.5v259h-0.5zM123 443.1h0.5v259h-0.5zM123.5 442.7h0.5v257.7h-0.5zM124 442.6h0.5v256.3h-0.5zM124.5 442.2h0.5v257.1h-0.5zM125 441.5h0.5v258.9h-0.5zM125.5 441.8h0.5v257.8h-0.5zM126 441.2h0.5v259.8h-0.5zM126.5 442.6h0.5v257.7h-0.5zM127 442.5h0.5v257.4h-0.5zM127.5 443h0.5v256h-0.5zM128 443h0.5v256.8h-0.5zM128.5 441.4h0.5v257.8h-0.5zM129 441.7h0.5v258.6h-0.5zM129.5 441.7h0.5v258.1h-0.5zM130 442.3h0.5v258.5h-0.5zM130.5 442.1h0.5v257.1h-0.5zM131 441.7h0.5v257.4h-0.5zM131.5 442.1h0.5v257.8h-0.5zM132 442.8h0.5v257.1h-0.5zM132.5 442.9h0.5v257.5h-0.5zM133 442h0.5v257.3h-0.5zM133.5 442.5h0.5v258.2h-0.5zM134 441.4h0.5v257.8h-0.5zM134.5 442.9h0.5v256.5h-0.5zM135 441.7h0.5v258.7h-0.5zM135.5 441.2h0.5v258.2h-0.5zM136 442.3h0.5v256.5h-0.5zM136.5 442h0.5v257.3h-0.5zM137 443.1h0.5v256.9h-0.5zM137.5 441.6h0.5v257.4h-0.5zM138 443h0.5v257.9h-0.5zM138.5 442.7h0.5v256.8h-0.5zM139 442.4h0.5v256.9h-0.5zM139.5 443.1h0.5v256.9h-0.5zM140 442.1h0.5v258.3h-0.5zM140.5 442.2h0.5v258h-0.5zM141 441.4h0.5v258.8h-0.5zM141.5 443.1h0.5v256.5h-0.5zM142 442.3h0.5v257.9h-0.5zM142.5 441.7h0.5v257.3h-0.5zM143 442.7h0.5v257.8h-0.5zM143.5 441.6h0.5v260.6h-0.5zM144 442.1h0.5v258.4h-0.5zM144.5 441.7h0.5v258.3h-0.5zM145 441.8h0.5v257.3h-0.5zM145.5 441.2h0.5v259.3h-0.5zM146 441.4h0.5v258.3h-0.5zM146.5 442.8h0.5v257.3h-0.5zM147 441.9h0.5v258.1h-0.5zM147.5 441.4h0.5v260.6h-0.5zM148 442.8h0.5v258.1h-0.5zM148.5 442.2h0.5v258h-0.5zM149 442.5h0.5v258.2h-0.5zM149.5 442.3h0.5v256.5h-0.5zM150 442.5h0.5v257.5h-0.5zM150.5 441.4h0.5v257.5h-0.5zM151 442.4h0.5v257.6h-0.5zM151.5 443h0.5v257.6h-0.5zM152 441.1h0.5v258.2h-0.5zM152.5 442.2h0.5v257.3h-0.5zM153 442.5h0.5v258.2h-0.5zM153.5 443h0.5v257.4h-0.5zM154 442.8h0.5v257.9h-0.5zM154.5 442.7h0.5v257.9h-0.5zM155 441.2h0.5v258h-0.5zM155.5 442.5h0.5v257.2h-0.5zM156 441.7h0.5v258.8h-0.5zM156.5 441.4h0.5v259h-0.5zM157 441.8h0.5v258.3h-0.5zM157.5 441h0.5v259.5h-0.5zM158 442h0.5v257.2h-0.5zM158.5 441.9h0.5v257h-0.5zM159 441.4h0.5v259.1h-0.5zM159.5 442h0.5v258.4h-0.5zM160 441.9h0.5v257h-0.5zM160.5 441.5h0.5v258.4h-0.5zM161 442.4h0.5v256.7h-0.5zM161.5 442.6h0.5v257.9h-0.5zM162 443.1h0.5v256.3h-0.5zM162.5 442.8h0.5v256.8h-0.5zM163 442.5h0.5v259.1h-0.5zM163.5 441.1h0.5v259.6h-0.5zM164 441.1h0.5v259.7h-0.5zM164.5 443.1h0.5v257.4h-0.5zM165 441.6h0.5v257.9h-0.5zM165.5 443.1h0.5v256.4h-0.5zM166 441.3h0.5v258.3h-0.5zM166.5 443h0.5v257.4h-0.5zM167 442.8h0.5v258h-0.5zM167.5 441.9h0.5v258.6h-0.5zM168 441.6h0.5v258.8h-0.5zM168.5 442.6h0.5v257.3h-0.5zM169 441.1h0.5v258.8h-0.5zM169.5 442.5h0.5v256.8h-0.5zM170 442.4h0.5v258.3h-0.5zM170.5 443h0.5v256.6h-0.5zM171 441.2h0.5v259.7h-0.5zM171.5 442.3h0.5v256.7h-0.5zM172 440h0.5v259.1h-0.5zM172.5 440.8h0.5v258.5h-0.5zM173 441.5h0.5v258.2h-0.5zM173.5 442.3h0.5v257.6h-0.5zM174 441.4h0.5v259.2h-0.5zM174.5 441.1h0.5v258.2h-0.5zM175 441.2h0.5v258.1h-0.5zM175.5 442.4h0.5v258.1h-0.5zM176 441.8h0.5v258h-0.5zM176.5 442.8h0.5v257.8h-0.5zM177 442.2h0.5v258.2h-0.5zM177.5 441.8h0.5v257.2h-0.5zM178 442.6h0.5v257.6h-0.5zM178.5 441.5h0.5v259.5h-0.5zM179 441.9h0.5v257.3h-0.5zM179.5 443h0.5v257.7h-0.5zM180 442.3h0.5v257.6h-0.5zM180.5 443.1h0.5v257.8h-0.5zM181 442.7h0.5v258.3h-0.5zM181.5 441.6h0.5v257.6h-0.5zM182 442.6h0.5v257.4h-0.5zM182.5 441.1h0.5v258.3h-0.5zM183 441.8h0.5v258.7h-0.5zM183.5 441.2h0.5v258.5h-0.5zM184 441.3h0.5v259h-0.5zM184.5 443.2h0.5v256.5h-0.5zM185 441.7h0.5v258.3h-0.5zM185.5 441.8h0.5v257.6h-0.5zM186 443h0.5v256.5h-0.5zM186.5 441.3h0.5v257.8h-0.5zM187 442.2h0.5v256.7h-0.5zM187.5 442.7h0.5v258.3h-0.5zM188 441.7h0.5v259.1h-0.5zM188.5 442h0.5v257h-0.5zM189 441.2h0.5v258.1h-0.5zM189.5 441.9h0.5v257h-0.5zM190 442.4h0.5v258.4h-0.5zM190.5 441.5h0.5v258.9h-0.5zM191 442.1h0.5v257.9h-0.5zM191.5 439.9h0.5v260.3h-0.5zM192 443h0.5v257.3h-0.5zM192.5 442.8h0.5v256.9h-0.5zM193 441.4h0.5v258.9h-0.5zM193.5 442.2h0.5v257.4h-0.5zM194 442.8h0.5v258.1h-0.5zM194.5 441.7h0.5v258h-0.5zM195 442.8h0.5v258.8h-0.5zM195.5 442.3h0.5v257.6h-0.5zM196 442.6h0.5v256.5h-0.5zM196.5 441.8h0.5v259h-0.5zM197 442.4h0.5v258.4h-0.5zM197.5 441.8h0.5v257.7h-0.5zM198 443.1h0.5v256.4h-0.5zM198.5 441.6h0.5v257.7h-0.5zM199 441.2h0.5v258.1h-0.5zM199.5 442.2h0.5v258.5h-0.5zM200 441.3h0.5v258.1h-0.5zM200.5 441.2h0.5v258.7h-0.5zM201 440.7h0.5v258.6h-0.5zM201.5 441.3h0.5v257.9h-0.5zM202 442.5h0.5v256.6h-0.5zM202.5 442.7h0.5v256.5h-0.5zM203 441.4h0.5v259.5h-0.5zM203.5 441.8h0.5v257.8h-0.5zM204 441.6h0.5v257.5h-0.5zM204.5 441.8h0.5v257.2h-0.5zM205 443.1h0.5v257.9h-0.5zM205.5 441.8h0.5v258.1h-0.5zM206 440.2h0.5v259.4h-0.5zM206.5 442.7h0.5v257.1h-0.5zM207 442h0.5v258.7h-0.5zM207.5 442.3h0.5v258.4h-0.5zM208 443.1h0.5v256h-0.5zM208.5 441.4h0.5v259.5h-0.5zM209 442.9h0.5v255.9h-0.5zM209.5 442.7h0.5v257.6h-0.5zM210 442.7h0.5v257.3h-0.5zM210.5 441.3h0.5v258.2h-0.5zM211 441.8h0.5v257.8h-0.5zM211.5 443.2h0.5v257.5h-0.5zM212 441.6h0.5v257.8h-0.5zM212.5 442.1h0.5v257.4h-0.5zM213 441.6h0.5v258.2h-0.5zM213.5 442.2h0.5v258.8h-0.5zM214 442h0.5v257h-0.5zM214.5 442.9h0.5v256.1h-0.5zM215 441.8h0.5v257.8h-0.5zM215.5 442.2h0.5v257.5h-0.5zM216 442.6h0.5v256.9h-0.5zM216.5 441.9h0.5v258.4h-0.5zM217 442.3h0.5v257h-0.5zM217.5 442.4h0.5v256.6h-0.5zM218 440.1h0.5v259.9h-0.5zM218.5 442.2h0.5v258.4h-0.5zM219 443h0.5v257.3h-0.5zM219.5 442.9h0.5v256.9h-0.5zM220 441.6h0.5v259h-0.5zM220.5 439.7h0.5v261.4h-0.5zM221 442.8h0.5v256.6h-0.5zM221.5 442.1h0.5v258.1h-0.5zM222 442h0.5v259h-0.5zM222.5 441.2h0.5v259.3h-0.5zM223 439.6h0.5v260.2h-0.5zM223.5 443h0.5v256.6h-0.5zM224 442.3h0.5v257h-0.5zM224.5 441.2h0.5v257.7h-0.5zM225 442.2h0.5v256.8h-0.5zM225.5 442h0.5v258h-0.5zM226 443.2h0.5v256.8h-0.5zM226.5 441.7h0.5v257.4h-0.5zM227 442.4h0.5v258.1h-0.5zM227.5 442.9h0.5v256.4h-0.5zM228 442h0.5v257.3h-0.5zM228.5 441.5h0.5v259.4h-0.5zM229 443h0.5v256.3h-0.5zM229.5 441.1h0.5v258.6h-0.5zM230 442.8h0.5v256.9h-0.5zM230.5 441.4h0.5v258h-0.5zM231 441.7h0.5v257.5h-0.5zM231.5 442.2h0.5v258.1h-0.5zM232 442.5h0.5v256.7h-0.5zM232.5 441.9h0.5v258.2h-0.5zM233 442h0.5v258.6h-0.5zM233.5 442.1h0.5v257.3h-0.5zM234 442.5h0.5v258.1h-0.5zM234.5 441.8h0.5v258.1h-0.5zM235 442.6h0.5v257.8h-0.5zM235.5 441.2h0.5v259.4h-0.5zM236 442.2h0.5v257.6h-0.5zM236.5 442.3h0.5v257h-0.5zM237 442.7h0.5v256.8h-0.5zM237.5 442.9h0.5v258h-0.5zM238 442.6h0.5v256.2h-0.5zM238.5 442.6h0.5v257.2h-0.5zM239 441.5h0.5v258.5h-0.5zM239.5 441.2h0.5v258.3h-0.5zM240 441.4h0.5v257.9h-0.5zM240.5 442.3h0.5v256.7h-0.5zM241 441.4h0.5v257.7h-0.5zM241.5 442.2h0.5v258.5h-0.5zM242 441.9h0.5v257.5h-0.5zM242.5 443.1h0.5v257.8h-0.5zM243 442h0.5v259h-0.5zM243.5 442.3h0.5v257h-0.5zM244 443.2h0.5v257.2h-0.5zM244.5 441.2h0.5v259.2h-0.5zM245 442h0.5v257.5h-0.5zM245.5 441.4h0.5v258h-0.5zM246 441.8h0.5v258.6h-0.5zM246.5 442.5h0.5v258.1h-0.5zM247 442.2h0.5v259h-0.5zM247.5 441.4h0.5v257.9h-0.5zM248 442.1h0.5v258.6h-0.5zM248.5 440.3h0.5v259.7h-0.5zM249 443h0.5v256.1h-0.5zM249.5 442.6h0.5v257.8h-0.5zM250 442.2h0.5v257.9h-0.5zM250.5 441.3h0.5v259.4h-0.5zM251 441h0.5v259.5h-0.5zM251.5 442h0.5v258.1h-0.5zM252 441h0.5v258.4h-0.5zM252.5 439.9h0.5v260.1h-0.5zM253 443.1h0.5v257.4h-0.5zM253.5 442.8h0.5v257.5h-0.5zM254 441.5h0.5v259.1h-0.5zM254.5 441.5h0.5v257.5h-0.5zM255 442.3h0.5v257.9h-0.5zM255.5 439.6h0.5v260h-0.5zM256 442.3h0.5v258.2h-0.5zM256.5 442.5h0.5v257.5h-0.5zM257 441.7h0.5v258.9h-0.5zM257.5 441.2h0.5v258.9h-0.5zM258 442h0.5v259h-0.5zM258.5 441.8h0.5v257.3h-0.5zM259 442.1h0.5v258.8h-0.5zM259.5 441h0.5v257.8h-0.5zM260 442.9h0.5v256h-0.5zM260.5 441.7h0.5v257.8h-0.5zM261 441.3h0.5v257.7h-0.5zM261.5 441.1h0.5v258.1h-0.5zM262 442.6h0.5v257.9h-0.5zM262.5 442.4h0.5v257.9h-0.5zM263 441.6h0.5v257.3h-0.5zM263.5 443h0.5v257.3h-0.5zM264 441.9h0.5v259.8h-0.5zM264.5 441.7h0.5v257.7h-0.5zM265 441.6h0.5v258.7h-0.5zM265.5 443.1h0.5v256.1h-0.5zM266 441.1h0.5v259h-0.5zM266.5 441.5h0.5v257.5h-0.5zM267 442.1h0.5v258.6h-0.5zM267.5 441.7h0.5v257.1h-0.5zM268 442.7h0.5v257.7h-0.5zM268.5 441.5h0.5v257.7h-0.5zM269 442.4h0.5v256.6h-0.5zM269.5 442.1h0.5v257.9h-0.5zM270 441.4h0.5v258.8h-0.5zM270.5 443h0.5v257.7h-0.5zM271 442.6h0.5v256.5h-0.5zM271.5 443h0.5v257.1h-0.5zM272 441.6h0.5v259.1h-0.5zM272.5 441.3h0.5v259.3h-0.5zM273 441.7h0.5v259.1h-0.5zM273.5 441h0.5v258.5h-0.5zM274 443.1h0.5v255.8h-0.5zM274.5 441.5h0.5v259.3h-0.5zM275 443h0.5v256.5h-0.5zM275.5 442.2h0.5v257.5h-0.5zM276 441.7h0.5v259.2h-0.5zM276.5 442.8h0.5v256.5h-0.5zM277 441.3h0.5v259.5h-0.5zM277.5 442.2h0.5v257.5h-0.5zM278 443h0.5v256.4h-0.5zM278.5 441.4h0.5v258h-0.5zM279 441.2h0.5v258.4h-0.5zM279.5 442.4h0.5v256.9h-0.5zM280 440.8h0.5v260h-0.5zM280.5 441.4h0.5v257.7h-0.5zM281 442.2h0.5v257.3h-0.5zM281.5 442.1h0.5v257.7h-0.5zM282 442.1h0.5v257.1h-0.5zM282.5 442.1h0.5v257.9h-0.5zM283 441.8h0.5v259.3h-0.5zM283.5 442.2h0.5v257.7h-0.5zM284 442h0.5v257.2h-0.5zM284.5 441.3h0.5v257.9h-0.5zM285 441.6h0.5v258.4h-0.5zM285.5 442.9h0.5v258.1h-0.5zM286 561h0.5v101h-0.5zM286.5 561h0.5v101h-0.5zM287 561h0.5v68h-0.5zM287.5 561h0.5v68h-0.5zM288 442.6h0.5v258.4h-0.5zM288.5 442.9h0.5v256.1h-0.5zM289 441.2h0.5v259.4h-0.5zM289.5 441h0.5v258.3h-0.5zM290 441.1h0.5v259.8h-0.5zM290.5 442.6h0.5v257.6h-0.5zM291 441h0.5v258.2h-0.5zM291.5 443.1h0.5v257h-0.5zM292 442.9h0.5v257.1h-0.5zM292.5 441.3h0.5v259.3h-0.5zM293 441.6h0.5v257.5h-0.5zM293.5 442h0.5v258h-0.5zM294 441.7h0.5v258.8h-0.5zM294.5 441.7h0.5v259.2h-0.5zM295 442.3h0.5v258.6h-0.5zM295.5 441.5h0.5v258.1h-0.5zM296 441.8h0.5v258.4h-0.5zM296.5 442.5h0.5v257.7h-0.5zM297 442.2h0.5v258.5h-0.5zM297.5 442.7h0.5v257.9h-0.5zM298 442.1h0.5v258.3h-0.5zM298.5 441.6h0.5v258.5h-0.5zM299 441h0.5v258.2h-0.5zM299.5 442h0.5v257.4h-0.5zM300 442.8h0.5v256h-0.5zM300.5 440.6h0.5v260h-0.5zM301 441.6h0.5v258.4h-0.5zM301.5 442.9h0.5v256.7h-0.5zM302 442.2h0.5v257.8h-0.5zM302.5 439.5h0.5v259.6h-0.5zM303 442.9h0.5v256.5h-0.5zM303.5 442.4h0.5v258.1h-0.5zM304 443.2h0.5v256.2h-0.5zM304.5 442.9h0.5v257.2h-0.5zM305 441.9h0.5v257h-0.5zM305.5 442.9h0.5v257.5h-0.5zM306 443.1h0.5v256.3h-0.5zM306.5 441.4h0.5v257.6h-0.5zM307 441.9h0.5v258.6h-0.5zM307.5 441.4h0.5v258h-0.5zM308 441.9h0.5v258.8h-0.5zM308.5 443h0.5v256.5h-0.5zM309 442.6h0.5v257h-0.5zM309.5 442.4h0.5v259.9h-0.5zM310 442.4h0.5v256.8h-0.5zM310.5 442h0.5v258.7h-0.5zM311 442.9h0.5v256.2h-0.5zM311.5 442.8h0.5v257.6h-0.5zM312 441.5h0.5v257.8h-0.5zM312.5 442.3h0.5v257.3h-0.5zM313 443h0.5v256.6h-0.5zM313.5 442h0.5v258h-0.5zM314 443.2h0.5v257.3h-0.5zM314.5 441.4h0.5v259.2h-0.5zM315 441.5h0.5v258.5h-0.5zM315.5 442.3h0.5v257.9h-0.5zM316 443.2h0.5v256.9h-0.5zM316.5 442.4h0.5v259.7h-0.5zM317 442.7h0.5v257.3h-0.5zM317.5 442.4h0.5v257.6h-0.5zM318 443h0.5v256.8h-0.5zM318.5 441.8h0.5v257.3h-0.5zM319 442.7h0.5v256.3h-0.5zM319.5 441h0.5v258.8h-0.5zM320 441.9h0.5v258.2h-0.5zM320.5 442.8h0.5v258h-0.5zM321 441.2h0.5v257.8h-0.5zM321.5 442.7h0.5v257.3h-0.5zM322 442.3h0.5v258.2h-0.5zM322.5 442.3h0.5v257.2h-0.5zM323 443.2h0.5v255.6h-0.5zM323.5 441.5h0.5v257.7h-0.5zM324 442.7h0.5v258.3h-0.5zM324.5 443h0.5v256.3h-0.5zM325 441.9h0.5v257h-0.5zM325.5 442.2h0.5v258.4h-0.5zM326 442h0.5v257.6h-0.5zM326.5 442.1h0.5v257.2h-0.5zM327 441.6h0.5v257.3h-0.5zM327.5 442.4h0.5v257.2h-0.5zM328 441.4h0.5v257.5h-0.5zM328.5 442.7h0.5v258h-0.5zM329 442.2h0.5v258.1h-0.5zM329.5 440.4h0.5v258.6h-0.5zM330 442h0.5v258.9h-0.5zM330.5 442.6h0.5v256.7h-0.5zM331 443.1h0.5v256h-0.5zM331.5 443h0.5v256.7h-0.5zM332 441.3h0.5v258.5h-0.5zM332.5 441.2h0.5v257.7h-0.5zM333 441.5h0.5v259.1h-0.5zM333.5 442h0.5v257.4h-0.5zM334 441.2h0.5v258.9h-0.5zM334.5 443.1h0.5v255.9h-0.5zM335 441.1h0.5v259.3h-0.5zM335.5 442.4h0.5v258.2h-0.5zM336 441.8h0.5v257.3h-0.5zM336.5 441.4h0.5v258.1h-0.5zM337 442.2h0.5v256.9h-0.5zM337.5 442.5h0.5v257.8h-0.5zM338 441.9h0.5v258.3h-0.5zM338.5 442.2h0.5v258.1h-0.5zM339 442.1h0.5v257.7h-0.5zM339.5 443h0.5v257.6h-0.5zM340 442.5h0.5v259.8h-0.5zM340.5 441.4h0.5v258.2h-0.5zM341 442.3h0.5v257.5h-0.5zM341.5 443.2h0.5v257.4h-0.5zM342 442.6h0.5v257.9h-0.5zM342.5 441.2h0.5v259h-0.5zM343 442h0.5v257.3h-0.5zM343.5 442.6h0.5v256.6h-0.5zM344 441.8h0.5v258.5h-0.5zM344.5 442.6h0.5v256.8h-0.5zM345 441.2h0.5v259.6h-0.5zM345.5 442.1h0.5v258.1h-0.5zM346 443h0.5v257.6h-0.5zM346.5 443.1h0.5v255.9h-0.5zM347 442.5h0.5v257.1h-0.5zM347.5 441.8h0.5v259.1h-0.5zM348 442.4h0.5v257.1h-0.5zM348.5 442.4h0.5v257.5h-0.5zM349 441.4h0.5v261h-0.5zM349.5 441.6h0.5v257.4h-0.5zM350 442.3h0.5v259.4h-0.5zM350.5 442.9h0.5v258h-0.5zM351 441.3h0.5v257.8h-0.5zM351.5 441.2h0.5v257.8h-0.5zM352 441.5h0.5v258.2h-0.5zM352.5 441.9h0.5v257.6h-0.5zM353 442.9h0.5v256.3h-0.5zM353.5 441.7h0.5v258.9h-0.5zM354 441.7h0.5v259h-0.5zM354.5 441.8h0.5v257.5h-0.5zM355 441.3h0.5v258.9h-0.5zM355.5 442.1h0.5v257.1h-0.5zM356 443h0.5v256.4h-0.5zM356.5 441.4h0.5v258.7h-0.5zM357 442.3h0.5v258.7h-0.5zM357.5 441.8h0.5v258.8h-0.5zM358 441.2h0.5v260h-0.5zM358.5 442.7h0.5v256.2h-0.5zM359 443h0.5v256.5h-0.5zM359.5 442h0.5v258.7h-0.5zM360 442.6h0.5v257.8h-0.5zM360.5 442.1h0.5v257.4h-0.5zM361 443h0.5v256h-0.5zM361.5 442.1h0.5v257.4h-0.5zM362 441.7h0.5v257.7h-0.5zM362.5 441.7h0.5v257.5h-0.5zM363 441.3h0.5v258.7h-0.5zM363.5 442.2h0.5v257.3h-0.5zM364 443h0.5v256.7h-0.5zM364.5 442.3h0.5v258.7h-0.5zM365 439.8h0.5v260h-0.5zM365.5 441.6h0.5v258.9h-0.5zM366 441h0.5v258h-0.5zM366.5 441.3h0.5v259.4h-0.5zM367 441.6h0.5v258.7h-0.5zM367.5 441.5h0.5v258.4h-0.5zM368 442.4h0.5v258.3h-0.5zM368.5 441.5h0.5v257.6h-0.5zM369 442.9h0.5v256.8h-0.5zM369.5 443.1h0.5v256.2h-0.5zM370 487.3h0.5v76.9h-0.5zM370.5 483.4h0.5v80.9h-0.5zM371 490.8h0.5v74.2h-0.5zM371.5 479.8h0.5v81.2h-0.5zM372 485.5h0.5v80.7h-0.5zM372.5 484.5h0.5v85.9h-0.5zM374 488.4h0.5v73.6h-0.5zM374.5 499.7h0.5v74.8h-0.5zM375 509h0.5v70.9h-0.5zM375.5 526.6h0.5v60.7h-0.5zM376 536.9h0.5v52.1h-0.5zM376.5 544.4h0.5v40.1h-0.5zM377 544.5h0.5v45h-0.5zM377.5 536.3h0.5v49h-0.5zM378.5 539.6h0.5v58h-0.5zM379 535.4h0.5v77.4h-0.5zM379.5 530.7h0.5v83.9h-0.5zM380 521.4h0.5v96h-0.5zM380.5 513.6h0.5v71.8h-0.5zM381 502.5h0.5v82h-0.5zM381.5 501.2h0.5v78h-0.5zM382 486.8h0.5v91.5h-0.5zM382.5 479.2h0.5v114.1h-0.5zM384 441.7h0.5v257.8h-0.5zM384.5 441.8h0.5v257.7h-0.5zM385 442.7h0.5v257.8h-0.5zM385.5 441.5h0.5v259.3h-0.5zM386 441.3h0.5v259.6h-0.5zM386.5 441.7h0.5v258.3h-0.5zM388 585.7h0.5v114h-0.5zM388.5 591h0.5v109.6h-0.5zM389 594.6h0.5v53.6h-0.5zM389.5 597.7h0.5v46.2h-0.5zM390 599.2h0.5v45h-0.5zM390.5 598.6h0.5v46.1h-0.5zM392.5 441.7h0.5v257.7h-0.5zM393 442h0.5v257.6h-0.5zM393.5 441.8h0.5v258.8h-0.5zM394 462h0.5v238.7h-0.5zM394.5 468.9h0.5v230.1h-0.5zM395 469.9h0.5v230.1h-0.5zM395.5 462.6h0.5v237.5h-0.5zM396 479.6h0.5v220.8h-0.5zM396.5 487.5h0.5v213.1h-0.5zM397 492.1h0.5v206.7h-0.5zM397.5 500.6h0.5v198.9h-0.5zM398 510h0.5v190h-0.5zM398.5 514.6h0.5v185.6h-0.5zM399 443.1h0.5v256.9h-0.5zM399.5 441.6h0.5v258.3h-0.5zM400 443.2h0.5v257.8h-0.5zM400.5 441.5h0.5v259.5h-0.5zM401 442.2h0.5v258.4h-0.5zM401.5 442.8h0.5v258.7h-0.5zM402 442.4h0.5v258.4h-0.5zM402.5 441.3h0.5v259h-0.5zM403 441.6h0.5v259.4h-0.5zM403.5 441.4h0.5v258.1h-0.5zM404 441.3h0.5v259h-0.5zM404.5 442.9h0.5v257.2h-0.5zM405 441.2h0.5v259.6h-0.5zM405.5 442.9h0.5v257.6h-0.5zM406 441.2h0.5v258h-0.5zM406.5 441.2h0.5v257.9h-0.5zM407 645.5h0.5v55.3h-0.5zM408 565.1h0.5v62.2h-0.5zM408.5 560.1h0.5v66.8h-0.5zM409 567.6h0.5v59.5h-0.5zM409.5 554.8h0.5v70.1h-0.5zM410 542.7h0.5v85.5h-0.5zM410.5 551.1h0.5v69.7h-0.5zM412 533.8h0.5v85.2h-0.5zM412.5 533.4h0.5v85.4h-0.5zM413 532.7h0.5v81h-0.5zM413.5 530.7h0.5v74.7h-0.5zM414 442.5h0.5v257.5h-0.5zM414.5 441.7h0.5v259.4h-0.5zM415 443h0.5v257.6h-0.5zM415.5 442.2h0.5v257.3h-0.5zM416 442.9h0.5v256h-0.5zM416.5 441.4h0.5v257.7h-0.5zM417 441.2h0.5v258.9h-0.5zM417.5 442.9h0.5v257.6h-0.5zM418 442.3h0.5v258.1h-0.5zM418.5 442.4h0.5v257.4h-0.5zM419 442.2h0.5v257.9h-0.5zM419.5 441.3h0.5v258.5h-0.5zM420 442h0.5v258h-0.5zM420.5 471.1h0.5v212.2h-0.5zM421 486.5h0.5v183.5h-0.5zM421.5 495.9h0.5v182.5h-0.5zM422 506.5h0.5v160.8h-0.5zM422.5 517.4h0.5v154.5h-0.5zM423 532.5h0.5v131.7h-0.5zM423.5 561.8h0.5v107h-0.5zM425 599.1h0.5v74.5h-0.5zM425.5 599.2h0.5v66.3h-0.5zM426 604.7h0.5v55.9h-0.5zM426.5 596.2h0.5v65.9h-0.5zM427 597.4h0.5v53.5h-0.5zM428.5 513.5h0.5v69.7h-0.5zM429 520.7h0.5v66.4h-0.5zM429.5 501.4h0.5v88.1h-0.5zM430 503.5h0.5v82.9h-0.5zM430.5 494.2h0.5v92.2h-0.5zM431 487h0.5v98.1h-0.5zM431.5 492.6h0.5v92.7h-0.5zM432 488.5h0.5v88.8h-0.5zM432.5 508.3h0.5v67.4h-0.5zM433 513.7h0.5v71.7h-0.5zM433.5 520.4h0.5v59.3h-0.5zM434 529.9h0.5v48.5h-0.5zM434.5 524.7h0.5v63.3h-0.5zM435 528.8h0.5v55.3h-0.5zM435.5 523.8h0.5v61.2h-0.5zM436 525.9h0.5v50.4h-0.5zM436.5 442h0.5v257.3h-0.5zM437 440.7h0.5v260.4h-0.5zM437.5 441.4h0.5v258.1h-0.5zM438 442.1h0.5v257.9h-0.5zM438.5 443.1h0.5v257.2h-0.5zM439 557.6h0.5v68.1h-0.5zM440.5 563.9h0.5v89.6h-0.5zM441 551.1h0.5v104.7h-0.5zM441.5 555h0.5v102h-0.5zM442 562.3h0.5v103.7h-0.5zM442.5 549.4h0.5v105.2h-0.5zM443 551.7h0.5v101.1h-0.5zM443.5 550.3h0.5v113h-0.5zM444 547.7h0.5v104.7h-0.5zM444.5 524.7h0.5v93.6h-0.5zM445 496.5h0.5v103.5h-0.5zM445.5 471.1h0.5v167.3h-0.5zM446 451.2h0.5v228.7h-0.5zM446.5 441.5h0.5v257.9h-0.5zM447 659.5h0.5v39.8h-0.5zM447.5 645.7h0.5v53.5h-0.5zM448 442.1h0.5v258.8h-0.5zM448.5 441.2h0.5v258.5h-0.5zM449 441.7h0.5v258.3h-0.5zM449.5 443h0.5v257.2h-0.5zM450 441.5h0.5v257.4h-0.5zM450.5 442.5h0.5v256.5h-0.5zM451 441.1h0.5v257.9h-0.5zM451.5 441.4h0.5v258.2h-0.5zM452 441.9h0.5v258.3h-0.5zM452.5 441.7h0.5v258h-0.5zM453 441.4h0.5v258.4h-0.5zM453.5 441.8h0.5v258.9h-0.5zM454 443h0.5v256.4h-0.5zM454.5 442.6h0.5v257.1h-0.5zM455 442h0.5v257.6h-0.5zM455.5 442.6h0.5v76.9h-0.5zM456 655h0.5v44.4h-0.5zM456.5 441.8h0.5v257.1h-0.5zM457 442.8h0.5v257.4h-0.5zM457.5 442.6h0.5v257.7h-0.5zM458 441.2h0.5v260.6h-0.5zM458.5 441.1h0.5v259.3h-0.5zM459 442.9h0.5v256.5h-0.5zM459.5 442.1h0.5v258.3h-0.5zM460 481.8h0.5v63.7h-0.5zM460.5 479.5h0.5v65.1h-0.5zM461 480.6h0.5v60.5h-0.5zM461.5 467.7h0.5v69.8h-0.5zM463 453.8h0.5v100.1h-0.5zM463.5 449.9h0.5v115.7h-0.5zM464 442.7h0.5v259.4h-0.5zM464.5 442.4h0.5v259.3h-0.5zM465 442.5h0.5v257h-0.5zM465.5 442.2h0.5v257h-0.5zM466 442.1h0.5v257.1h-0.5zM466.5 442.7h0.5v257.8h-0.5zM467 441h0.5v258.2h-0.5zM467.5 441.3h0.5v259.1h-0.5zM468 441.4h0.5v258.6h-0.5zM468.5 441.4h0.5v259.3h-0.5zM469 502.1h0.5v108.3h-0.5zM469.5 497.8h0.5v108.9h-0.5zM470 500.9h0.5v101.7h-0.5zM471.5 498.5h0.5v115h-0.5zM472 494.7h0.5v120.5h-0.5zM472.5 442.5h0.5v258.3h-0.5zM473 441.5h0.5v259.1h-0.5zM473.5 442h0.5v257.3h-0.5zM474 442.6h0.5v256.7h-0.5zM474.5 442.5h0.5v256.3h-0.5zM475 441.6h0.5v258.5h-0.5zM475.5 442.5h0.5v257.2h-0.5zM476 442.9h0.5v256.1h-0.5zM476.5 440.3h0.5v260.4h-0.5zM477 442.6h0.5v258h-0.5zM477.5 442.9h0.5v257.6h-0.5zM478 441.5h0.5v257.5h-0.5zM478.5 442.3h0.5v258.4h-0.5zM479 441.2h0.5v258.3h-0.5zM479.5 442h0.5v258h-0.5zM480 441.4h0.5v257.6h-0.5zM480.5 441.8h0.5v257.8h-0.5zM481 441.7h0.5v258.7h-0.5zM481.5 441.7h0.5v258.4h-0.5zM482 442.8h0.5v256.7h-0.5zM482.5 477.6h0.5v60.6h-0.5zM483 478.5h0.5v67.4h-0.5zM484 478.1h0.5v60.4h-0.5zM484.5 479h0.5v58.9h-0.5zM485 480.5h0.5v62.8h-0.5zM485.5 441.7h0.5v260.6h-0.5zM486 441.4h0.5v258h-0.5zM486.5 443.2h0.5v256.4h-0.5zM487 442.7h0.5v257.7h-0.5zM487.5 441.9h0.5v259h-0.5zM488 506.3h0.5v81.3h-0.5zM488.5 509h0.5v82.8h-0.5zM489 491.7h0.5v106h-0.5zM489.5 500.8h0.5v95.9h-0.5zM490 504.3h0.5v89.8h-0.5zM491 498.5h0.5v87.5h-0.5zM491.5 488.3h0.5v100.3h-0.5zM492 486.7h0.5v102h-0.5zM492.5 497.1h0.5v92.8h-0.5zM493 497.6h0.5v89h-0.5zM493.5 496.4h0.5v94h-0.5zM494 484.6h0.5v126.6h-0.5zM494.5 492.2h0.5v113.6h-0.5zM495 492.9h0.5v125.2h-0.5zM495.5 509h0.5v101.9h-0.5zM496 504.7h0.5v120.2h-0.5zM496.5 510.9h0.5v107.5h-0.5zM497 525.5h0.5v104.5h-0.5zM497.5 535.4h0.5v90.5h-0.5zM498 540.1h0.5v103h-0.5zM498.5 549.2h0.5v91.7h-0.5zM499 538.6h0.5v97h-0.5zM500.5 556h0.5v87h-0.5zM501 565.1h0.5v77.1h-0.5zM501.5 562.5h0.5v88.7h-0.5zM502 562.3h0.5v72.6h-0.5zM502.5 552.5h0.5v90.8h-0.5zM503 554.5h0.5v69.4h-0.5zM503.5 530.8h0.5v85h-0.5zM504 515.7h0.5v93.3h-0.5zM504.5 508.1h0.5v105.7h-0.5zM505 497.3h0.5v100.3h-0.5zM505.5 496.1h0.5v109.4h-0.5zM506 497.5h0.5v104.2h-0.5zM506.5 499.2h0.5v99.6h-0.5zM507 496.4h0.5v97.1h-0.5zM507.5 488h0.5v113h-0.5zM508 497.5h0.5v97.3h-0.5zM508.5 502.8h0.5v100.2h-0.5zM509 522h0.5v93.3h-0.5zM509.5 533.4h0.5v78.9h-0.5zM510 537.8h0.5v73.7h-0.5zM510.5 540.4h0.5v89.6h-0.5zM511 543.4h0.5v90.3h-0.5zM511.5 549.7h0.5v80.2h-0.5zM512 551.9h0.5v84.4h-0.5zM512.5 557.6h0.5v88.2h-0.5zM513 544h0.5v108.4h-0.5zM513.5 552.5h0.5v98.9h-0.5zM514 562.3h0.5v91h-0.5zM514.5 573.5h0.5v87.5h-0.5zM515 567.2h0.5v86.2h-0.5zM516 570.8h0.5v85.2h-0.5zM516.5 577.3h0.5v82.7h-0.5zM517 589.4h0.5v76.7h-0.5zM517.5 581.1h0.5v85.3h-0.5zM518 593.2h0.5v86.6h-0.5zM518.5 593.3h0.5v76.3h-0.5zM519 581.5h0.5v94.8h-0.5zM519.5 589.5h0.5v95h-0.5zM521 593.4h0.5v84.6h-0.5zM521.5 589.8h0.5v76.5h-0.5zM522 593.6h0.5v67.4h-0.5zM522.5 590.6h0.5v74.2h-0.5zM523 595.8h0.5v69.2h-0.5zM523.5 590.9h0.5v69.3h-0.5zM524 592.6h0.5v78.4h-0.5zM524.5 588.6h0.5v82.2h-0.5zM526 596.5h0.5v86.1h-0.5zM526.5 607.9h0.5v67.4h-0.5zM527 607.8h0.5v68.2h-0.5zM527.5 601.6h0.5v79.3h-0.5zM528 617.4h0.5v82.5h-0.5zM528.5 615.7h0.5v84.3h-0.5zM529 442.8h0.5v257.6h-0.5zM529.5 441h0.5v259.9h-0.5zM530 441.8h0.5v259.1h-0.5zM530.5 441.1h0.5v259.2h-0.5zM531 441h0.5v259.4h-0.5zM531.5 442.2h0.5v258.5h-0.5zM532 441.1h0.5v259.5h-0.5zM532.5 442h0.5v258.5h-0.5zM533 441.3h0.5v259.5h-0.5zM533.5 443h0.5v257.4h-0.5zM534 442h0.5v257.6h-0.5zM534.5 442.4h0.5v258.3h-0.5zM535 441.2h0.5v258.8h-0.5zM535.5 442.8h0.5v256.9h-0.5zM536 442.8h0.5v257h-0.5zM536.5 439.9h0.5v260h-0.5zM537 440.2h0.5v259.7h-0.5zM537.5 441.7h0.5v257.5h-0.5zM538 442.3h0.5v257.7h-0.5zM538.5 441.8h0.5v260.2h-0.5zM539 594.8h0.5v62.7h-0.5zM539.5 588.5h0.5v70.5h-0.5zM540 595.6h0.5v66.2h-0.5zM540.5 596.7h0.5v69.9h-0.5zM541 594.7h0.5v69.3h-0.5zM541.5 581.2h0.5v83.5h-0.5zM542 441.1h0.5v257.8h-0.5zM542.5 441.2h0.5v258.4h-0.5zM543 441.4h0.5v258.2h-0.5zM543.5 443.1h0.5v257.6h-0.5zM544 590.7h0.5v82.3h-0.5zM544.5 593.5h0.5v69.3h-0.5zM545 594.7h0.5v64.5h-0.5zM545.5 515.7h0.5v185h-0.5zM546 484.6h0.5v215.6h-0.5zM546.5 441.5h0.5v257.4h-0.5zM547 483.9h0.5v217h-0.5zM547.5 442.4h0.5v98h-0.5zM548 441.2h0.5v258.6h-0.5zM548.5 441.9h0.5v258.1h-0.5zM549 441.9h0.5v259.1h-0.5zM549.5 441.7h0.5v259h-0.5zM550 443.1h0.5v256h-0.5zM550.5 441.7h0.5v258.6h-0.5zM551 443.2h0.5v257.4h-0.5zM551.5 442.4h0.5v256.8h-0.5zM552 443h0.5v257.1h-0.5zM552.5 443h0.5v257.3h-0.5zM553 441.8h0.5v257.6h-0.5zM553.5 442h0.5v257.7h-0.5zM554.5 539.3h0.5v76h-0.5zM555 533.7h0.5v79.7h-0.5zM555.5 531.4h0.5v75.6h-0.5zM556 527.4h0.5v77.4h-0.5zM556.5 525.5h0.5v78.9h-0.5zM557 488.2h0.5v152.3h-0.5zM557.5 452.9h0.5v224.1h-0.5zM558 441.9h0.5v258.5h-0.5zM558.5 441.7h0.5v258h-0.5zM559 441.3h0.5v257.7h-0.5zM559.5 440h0.5v262.2h-0.5zM560 442.2h0.5v257.1h-0.5zM560.5 442.3h0.5v257.8h-0.5zM561 441.9h0.5v258.7h-0.5zM561.5 572.4h0.5v89.3h-0.5zM562 573.4h0.5v91.7h-0.5zM562.5 562.9h0.5v101.8h-0.5zM563 573.4h0.5v95.2h-0.5zM563.5 562.3h0.5v111h-0.5zM564 572.5h0.5v92.1h-0.5zM564.5 560.9h0.5v113.1h-0.5zM565 575.9h0.5v88.9h-0.5zM565.5 574.2h0.5v101.1h-0.5zM566 441.5h0.5v258h-0.5zM566.5 441.6h0.5v257.5h-0.5zM567 442.8h0.5v258.1h-0.5zM567.5 441.1h0.5v258.9h-0.5zM568 483h0.5v217.5h-0.5zM568.5 442h0.5v22.5h-0.5zM569 442h0.5v257.8h-0.5zM569.5 547.7h0.5v107.6h-0.5zM570 550.1h0.5v116.2h-0.5zM570.5 551.6h0.5v106h-0.5zM571 552.2h0.5v107.5h-0.5zM571.5 549.8h0.5v100.1h-0.5zM572.5 563.2h0.5v96h-0.5zM573 561.9h0.5v100.9h-0.5zM573.5 564.2h0.5v87.3h-0.5zM574 561.9h0.5v91.2h-0.5zM574.5 550.1h0.5v109.1h-0.5zM575 558.3h0.5v93.4h-0.5zM575.5 547.7h0.5v106.1h-0.5zM576 561.7h0.5v97.3h-0.5zM577.5 458.6h0.5v241.5h-0.5zM578 442.1h0.5v256.9h-0.5zM578.5 442.2h0.5v258.2h-0.5zM579 442.5h0.5v256.6h-0.5zM579.5 441.2h0.5v259h-0.5zM580 441.8h0.5v257.8h-0.5zM580.5 442.4h0.5v258h-0.5zM581 442.2h0.5v259.6h-0.5zM581.5 441.5h0.5v258.9h-0.5zM582 442.9h0.5v256.6h-0.5zM582.5 552.6h0.5v146.8h-0.5zM583 552.5h0.5v147.1h-0.5zM583.5 548.3h0.5v152.4h-0.5zM584 552.1h0.5v147.9h-0.5zM584.5 542.5h0.5v158.3h-0.5zM585 539.4h0.5v160.4h-0.5zM586 442.4h0.5v258h-0.5zM586.5 443.1h0.5v255.9h-0.5zM587 441.3h0.5v258.6h-0.5zM587.5 442.1h0.5v257.3h-0.5zM588 441.9h0.5v258.6h-0.5zM588.5 441.7h0.5v259.5h-0.5zM589 569.6h0.5v130.6h-0.5zM589.5 560.2h0.5v138.9h-0.5zM590 563h0.5v137.4h-0.5zM590.5 443.1h0.5v257.1h-0.5zM591 441.6h0.5v258.3h-0.5zM591.5 442.9h0.5v256.3h-0.5zM592 442.1h0.5v258.1h-0.5zM592.5 441.8h0.5v258.1h-0.5zM593 441.1h0.5v257.8h-0.5zM593.5 443h0.5v256.2h-0.5zM594 441.2h0.5v224.3h-0.5zM594.5 477h0.5v222.4h-0.5zM595 442h0.5v258.8h-0.5zM595.5 442.8h0.5v257.4h-0.5zM596 441.9h0.5v257h-0.5zM596.5 442.3h0.5v256.8h-0.5zM597 441.1h0.5v258.9h-0.5zM597.5 441.1h0.5v259h-0.5zM598 442.6h0.5v257.5h-0.5zM598.5 442.8h0.5v256.9h-0.5zM599 442.6h0.5v257.3h-0.5zM599.5 640.9h0.5v58.6h-0.5zM600.5 499.3h0.5v106.1h-0.5zM601 497.3h0.5v119.4h-0.5zM601.5 493.3h0.5v116.4h-0.5zM602 488.3h0.5v118.6h-0.5zM602.5 498.7h0.5v108.8h-0.5zM603 494.7h0.5v110.6h-0.5zM603.5 496.7h0.5v113.8h-0.5zM604 541.7h0.5v83.4h-0.5zM604.5 536.6h0.5v84.3h-0.5zM605 546.4h0.5v84.2h-0.5zM605.5 546.1h0.5v85.7h-0.5zM606 535.2h0.5v100.5h-0.5zM607 441.4h0.5v258.5h-0.5zM607.5 441.6h0.5v257.4h-0.5zM608 441.5h0.5v258h-0.5zM608.5 442h0.5v256.9h-0.5zM609 441.9h0.5v258.1h-0.5zM609.5 443h0.5v255.8h-0.5zM610 441.4h0.5v258.4h-0.5zM610.5 442h0.5v257.6h-0.5zM611 441h0.5v258.9h-0.5zM611.5 442.7h0.5v257.3h-0.5zM612 442.2h0.5v256.6h-0.5zM612.5 441.8h0.5v257.5h-0.5zM613 604.8h0.5v94.6h-0.5zM613.5 620h0.5v79.1h-0.5zM614 617.6h0.5v82.7h-0.5zM614.5 604.8h0.5v96.8h-0.5zM615 602.7h0.5v97.7h-0.5zM615.5 618.1h0.5v83h-0.5zM616 442.3h0.5v257.5h-0.5zM616.5 441.5h0.5v257.6h-0.5zM617 442.5h0.5v257.3h-0.5zM617.5 442.5h0.5v256.6h-0.5zM618 442.2h0.5v257h-0.5zM618.5 441.5h0.5v257.3h-0.5zM619 441.8h0.5v257.6h-0.5zM619.5 443.1h0.5v256.8h-0.5zM620 443.1h0.5v256.6h-0.5zM620.5 442.2h0.5v257.3h-0.5zM621 442h0.5v258h-0.5zM621.5 442.9h0.5v256.5h-0.5zM622 441.4h0.5v258.9h-0.5zM622.5 441.2h0.5v258.4h-0.5zM623 442.3h0.5v256.9h-0.5zM623.5 442.6h0.5v258h-0.5zM624 442.4h0.5v257.3h-0.5zM624.5 441.5h0.5v259.3h-0.5zM625 441.1h0.5v259h-0.5zM625.5 442.5h0.5v259.5h-0.5zM626 441.7h0.5v257.2h-0.5zM626.5 441.7h0.5v259h-0.5zM627 442.4h0.5v258.2h-0.5zM627.5 441.2h0.5v259.3h-0.5zM628 442.5h0.5v256.4h-0.5zM628.5 441.3h0.5v258.4h-0.5zM629 441.4h0.5v257.7h-0.5zM629.5 443.1h0.5v256.2h-0.5zM630 530.2h0.5v81.1h-0.5zM631.5 519.5h0.5v102.4h-0.5zM632 530.4h0.5v80.5h-0.5zM632.5 566h0.5v64.5h-0.5zM633 577.1h0.5v52h-0.5zM633.5 571.2h0.5v64.7h-0.5zM634 575.6h0.5v76.5h-0.5zM634.5 441.2h0.5v258h-0.5zM635 442.7h0.5v258.2h-0.5zM635.5 441.7h0.5v258.6h-0.5zM636 441.8h0.5v257.1h-0.5zM636.5 442h0.5v179.9h-0.5zM637 442.1h0.5v94.8h-0.5zM637.5 440.1h0.5v259.1h-0.5zM638 443.2h0.5v257.3h-0.5zM638.5 442.1h0.5v258.6h-0.5zM639 442.1h0.5v258.1h-0.5zM639.5 442.6h0.5v257.9h-0.5zM640 441.3h0.5v258.3h-0.5zM640.5 442.2h0.5v256.8h-0.5zM641 443.1h0.5v256.8h-0.5zM641.5 441.6h0.5v259h-0.5zM642 442.7h0.5v256.1h-0.5zM642.5 442.6h0.5v257.5h-0.5zM643 442h0.5v256.9h-0.5zM643.5 442.1h0.5v257.3h-0.5zM644 441.9h0.5v258.5h-0.5zM644.5 441.1h0.5v257.7h-0.5zM645 442.9h0.5v257.9h-0.5zM645.5 441.3h0.5v258.1h-0.5zM646 442.2h0.5v258h-0.5zM646.5 441.9h0.5v257.4h-0.5zM647 441.8h0.5v258.7h-0.5zM647.5 441.1h0.5v257.7h-0.5zM648 442.1h0.5v256.7h-0.5zM648.5 553.3h0.5v93.9h-0.5zM649 566.6h0.5v78.7h-0.5zM650.5 559.7h0.5v85.5h-0.5zM651 564.2h0.5v90.4h-0.5zM651.5 566.3h0.5v86.4h-0.5zM652 442.5h0.5v185.6h-0.5zM652.5 442.8h0.5v173.3h-0.5zM653 442.4h0.5v156.3h-0.5zM653.5 453.2h0.5v139.8h-0.5zM654 475.5h0.5v122h-0.5zM654.5 495.6h0.5v109.5h-0.5zM655 514h0.5v77.7h-0.5zM655.5 517.8h0.5v78.3h-0.5zM656 519.2h0.5v80.2h-0.5zM656.5 523.9h0.5v70.2h-0.5zM657 521.7h0.5v87.6h-0.5zM657.5 533.5h0.5v77.4h-0.5zM659 554.3h0.5v78.1h-0.5zM659.5 544.4h0.5v91.5h-0.5zM660 556h0.5v69.1h-0.5zM660.5 552.4h0.5v87.3h-0.5zM661 538.3h0.5v88.8h-0.5zM662.5 538h0.5v106.8h-0.5zM663 552.7h0.5v91.3h-0.5zM663.5 554.4h0.5v94.1h-0.5zM664 538.9h0.5v115.4h-0.5zM664.5 535.1h0.5v123.9h-0.5zM665 528.7h0.5v104.8h-0.5zM665.5 532.7h0.5v104.2h-0.5zM667 442.8h0.5v256.1h-0.5zM667.5 441.2h0.5v257.6h-0.5zM668 441.4h0.5v259.6h-0.5zM668.5 443h0.5v256.5h-0.5zM669 441.8h0.5v258.2h-0.5zM669.5 442.1h0.5v258.8h-0.5zM670 442.6h0.5v257.5h-0.5zM670.5 442.6h0.5v257.4h-0.5zM671 442.1h0.5v258.5h-0.5zM671.5 442.8h0.5v256.5h-0.5zM672 535h0.5v49.5h-0.5zM672.5 536.9h0.5v43.3h-0.5zM673 536.5h0.5v56.1h-0.5zM673.5 531.9h0.5v46.8h-0.5zM674 530.2h0.5v66.5h-0.5zM674.5 527.4h0.5v70.8h-0.5zM675 528.9h0.5v78.5h-0.5zM675.5 526.7h0.5v81h-0.5zM676 536.6h0.5v88.5h-0.5zM677.5 537.5h0.5v129.2h-0.5zM678 554.4h0.5v104.1h-0.5zM678.5 557.8h0.5v115.1h-0.5zM679 562.3h0.5v108.3h-0.5zM679.5 441.9h0.5v258.6h-0.5zM680 441.2h0.5v257.7h-0.5zM680.5 441.7h0.5v257.6h-0.5zM681 441.5h0.5v258.3h-0.5zM681.5 441.6h0.5v257.8h-0.5zM682 441.6h0.5v258.9h-0.5zM682.5 442.7h0.5v257.8h-0.5zM683 441.8h0.5v257.4h-0.5zM683.5 442.1h0.5v259.6h-0.5zM684 441.1h0.5v260.2h-0.5zM684.5 442.5h0.5v257.7h-0.5zM685 441.7h0.5v258.9h-0.5zM685.5 442.4h0.5v257.9h-0.5zM686 508.9h0.5v99.5h-0.5zM686.5 502.1h0.5v109h-0.5zM687 502.8h0.5v112.7h-0.5zM687.5 507.5h0.5v99.9h-0.5zM688 508.6h0.5v115.1h-0.5zM688.5 504.2h0.5v121.9h-0.5zM689 507.4h0.5v115.6h-0.5zM690.5 497.5h0.5v123.3h-0.5zM691 492.7h0.5v140.2h-0.5zM691.5 497.3h0.5v127.8h-0.5zM692 485.9h0.5v130.5h-0.5zM692.5 442.5h0.5v257.5h-0.5zM693 539.4h0.5v160h-0.5zM693.5 441.8h0.5v33.6h-0.5zM694 441.6h0.5v257.6h-0.5zM694.5 441.3h0.5v259.6h-0.5zM695 443.1h0.5v257.8h-0.5zM695.5 441.4h0.5v258.5h-0.5zM696 443h0.5v257.5h-0.5zM696.5 440.6h0.5v259.5h-0.5zM697 441.4h0.5v257.9h-0.5zM697.5 441.4h0.5v258.1h-0.5zM698 442.4h0.5v258.6h-0.5zM698.5 441.8h0.5v258.4h-0.5zM699 441.1h0.5v258.8h-0.5zM699.5 441.9h0.5v257.7h-0.5zM700 544.1h0.5v58.9h-0.5zM700.5 532.7h0.5v81.2h-0.5zM701.5 540.9h0.5v66.5h-0.5zM702 543.3h0.5v58.4h-0.5zM702.5 538.1h0.5v69.6h-0.5zM703 537.9h0.5v63.6h-0.5zM703.5 540.6h0.5v63.9h-0.5zM704 509.5h0.5v100.5h-0.5zM704.5 498.7h0.5v92.4h-0.5zM705 482.6h0.5v111.2h-0.5zM705.5 462.8h0.5v142.1h-0.5zM706 457.1h0.5v130.5h-0.5zM707 443h0.5v257.7h-0.5zM707.5 442.4h0.5v258.2h-0.5zM708 440.2h0.5v259h-0.5zM708.5 441.3h0.5v259.6h-0.5zM709 506.4h0.5v192.4h-0.5zM709.5 484.2h0.5v216.1h-0.5zM710 458.1h0.5v241.5h-0.5zM710.5 442h0.5v256.8h-0.5zM711 441.8h0.5v257.8h-0.5zM711.5 441.6h0.5v257.3h-0.5zM712 442.4h0.5v258.2h-0.5zM712.5 441.6h0.5v258.3h-0.5zM713 442.8h0.5v257.1h-0.5zM713.5 441.5h0.5v257.6h-0.5zM714 441h0.5v258.5h-0.5zM714.5 442h0.5v257.2h-0.5zM715 441.9h0.5v259h-0.5zM715.5 441.1h0.5v258.5h-0.5zM716 441h0.5v259.1h-0.5zM716.5 443.1h0.5v257.4h-0.5zM717 441.6h0.5v258.2h-0.5zM717.5 441h0.5v257.8h-0.5zM718 441.1h0.5v259.6h-0.5zM718.5 442.1h0.5v257.5h-0.5zM719 441.5h0.5v258.2h-0.5zM719.5 441.5h0.5v259.1h-0.5zM720 442.2h0.5v258.3h-0.5zM720.5 588.6h0.5v60.7h-0.5zM721 593.3h0.5v68h-0.5zM722.5 588.3h0.5v87.2h-0.5zM723 591.5h0.5v82.2h-0.5zM723.5 590.8h0.5v84.1h-0.5zM724 581.8h0.5v103.9h-0.5zM724.5 578.1h0.5v84.3h-0.5zM725 593.4h0.5v66h-0.5zM726.5 590.3h0.5v73.4h-0.5zM727 594.9h0.5v51.4h-0.5zM727.5 589.3h0.5v70.9h-0.5zM728 592.7h0.5v54.5h-0.5zM728.5 594.9h0.5v49.9h-0.5zM729 591.1h0.5v53.9h-0.5zM729.5 595.5h0.5v58.1h-0.5zM730 529.8h0.5v107.5h-0.5zM730.5 501.6h0.5v127h-0.5zM731 479.4h0.5v103.2h-0.5zM731.5 474.8h0.5v102.7h-0.5zM732 463.4h0.5v133.9h-0.5zM732.5 458.8h0.5v166.6h-0.5zM733.5 451.5h0.5v215.6h-0.5zM734 442h0.5v258h-0.5zM734.5 443h0.5v256.9h-0.5zM735 441.5h0.5v259.7h-0.5zM735.5 442.9h0.5v256.8h-0.5zM736 441.7h0.5v258.2h-0.5zM736.5 441.2h0.5v259h-0.5zM737 442.7h0.5v258.1h-0.5zM737.5 439.9h0.5v260.3h-0.5zM738 441.7h0.5v258h-0.5zM738.5 439.8h0.5v261.8h-0.5zM739 442.9h0.5v44.7h-0.5zM739.5 592.9h0.5v106.9h-0.5zM740 442.5h0.5v257.7h-0.5zM740.5 443h0.5v257h-0.5zM741 573.4h0.5v83.3h-0.5zM741.5 579.4h0.5v70h-0.5zM742 580.3h0.5v63.3h-0.5zM742.5 572.4h0.5v76.8h-0.5zM743.5 443h0.5v257.2h-0.5zM744 441.3h0.5v259.2h-0.5zM744.5 441.2h0.5v258.4h-0.5zM745 443.1h0.5v256.4h-0.5zM745.5 442.2h0.5v257.8h-0.5zM746 442.7h0.5v257.2h-0.5zM746.5 541.3h0.5v158.2h-0.5zM747 556.7h0.5v142.7h-0.5zM747.5 563.1h0.5v137.3h-0.5zM748 559.3h0.5v139.9h-0.5zM748.5 573.8h0.5v125.3h-0.5zM749 583.1h0.5v117.4h-0.5zM749.5 592.2h0.5v106.9h-0.5zM750 442.4h0.5v41.1h-0.5zM750 580.6h0.5v119.8h-0.5zM750.5 443h0.5v55.4h-0.5zM750.5 600.8h0.5v99.2h-0.5zM751 441h0.5v61.4h-0.5zM751 589.2h0.5v110.9h-0.5zM751.5 443.2h0.5v84.8h-0.5zM751.5 607.6h0.5v91.3h-0.5zM752 441.2h0.5v97.1h-0.5zM752 609h0.5v90h-0.5zM752.5 452.8h0.5v81.9h-0.5zM752.5 601h0.5v99.7h-0.5zM753 450.7h0.5v96.3h-0.5zM753.5 457.2h0.5v99h-0.5zM754 473.2h0.5v100.7h-0.5zM754.5 490.9h0.5v85.2h-0.5zM755 488h0.5v105.1h-0.5zM756.5 510.5h0.5v87.4h-0.5zM757 517.3h0.5v84.4h-0.5zM757.5 533.7h0.5v72h-0.5zM758 531.4h0.5v71.8h-0.5zM758.5 525.7h0.5v78.1h-0.5zM759 523.5h0.5v93.8h-0.5zM759.5 542.2h0.5v67.5h-0.5zM760 531.5h0.5v81.8h-0.5zM760.5 539.3h0.5v69.6h-0.5zM761 541.5h0.5v70.5h-0.5zM761.5 589.2h0.5v35.5h-0.5zM762 591h0.5v38.8h-0.5zM762.5 602.1h0.5v53.9h-0.5zM763 600.9h0.5v48.6h-0.5zM763.5 603h0.5v60.1h-0.5zM764 595.1h0.5v77.4h-0.5zM764.5 603.4h0.5v80.9h-0.5zM765 442.2h0.5v257h-0.5zM765.5 441.1h0.5v259.1h-0.5zM766 441.7h0.5v258.6h-0.5zM766.5 441.1h0.5v257.8h-0.5zM767 442.2h0.5v258.5h-0.5zM767.5 442h0.5v257.3h-0.5zM768 442.4h0.5v258.5h-0.5zM768.5 441.6h0.5v258.2h-0.5zM769 439.9h0.5v259.1h-0.5zM769.5 443.1h0.5v257.7h-0.5zM770 442h0.5v256.8h-0.5zM770.5 443.1h0.5v257.6h-0.5zM771 442.3h0.5v257.8h-0.5zM771.5 441.4h0.5v258.3h-0.5zM772 441.5h0.5v258.9h-0.5zM772.5 442h0.5v257.5h-0.5zM773 441.3h0.5v258h-0.5zM773.5 441.4h0.5v259.2h-0.5zM774 442.3h0.5v258.4h-0.5zM774.5 442.6h0.5v257.4h-0.5zM775 442.7h0.5v256.9h-0.5zM775.5 441.3h0.5v258h-0.5zM776 441.6h0.5v258.7h-0.5zM776.5 441.8h0.5v259.1h-0.5zM778 627.3h0.5v64.8h-0.5zM778.5 627.7h0.5v48.6h-0.5zM779 615.9h0.5v61.3h-0.5zM779.5 616.1h0.5v57.2h-0.5zM780 612.6h0.5v67.4h-0.5zM780.5 619.7h0.5v63.7h-0.5zM781.5 599.8h0.5v74h-0.5zM782 617.3h0.5v49.9h-0.5zM782.5 617.9h0.5v54.6h-0.5zM783 619.9h0.5v59.9h-0.5zM783.5 622.1h0.5v52.4h-0.5zM784 614.9h0.5v57.5h-0.5zM784.5 620h0.5v59h-0.5zM785 624.7h0.5v63h-0.5zM786.5 636.3h0.5v48.3h-0.5zM787 637.2h0.5v45.4h-0.5zM787.5 633.8h0.5v60.3h-0.5zM788 636.1h0.5v40.8h-0.5zM788.5 639.6h0.5v44.5h-0.5zM789 641.2h0.5v22.9h-0.5zM789.5 641.7h0.5v33.9h-0.5zM790 630h0.5v33.7h-0.5zM790.5 637.1h0.5v23.4h-0.5zM791 622.6h0.5v25.7h-0.5zM791.5 620.2h0.5v30h-0.5zM792 610h0.5v35.2h-0.5zM792.5 595.4h0.5v40.4h-0.5zM793 589.4h0.5v46.5h-0.5zM794.5 556.3h0.5v42.9h-0.5zM795 528.2h0.5v63.2h-0.5zM795.5 498.3h0.5v82.3h-0.5zM796 475.1h0.5v114.4h-0.5zM796.5 463.1h0.5v95.9h-0.5zM797 457.2h0.5v90.3h-0.5zM797.5 465.2h0.5v69.1h-0.5zM799 447.3h0.5v61.3h-0.5zM799.5 441.9h0.5v257.6h-0.5zM800 442.9h0.5v257.4h-0.5zM800.5 442.4h0.5v257.9h-0.5zM801 442.3h0.5v258h-0.5zM801.5 442.8h0.5v67.8h-0.5zM802 549.1h0.5v150.7h-0.5zM802.5 441.1h0.5v259.3h-0.5zM803 441.4h0.5v257.7h-0.5zM803.5 463.1h0.5v128.7h-0.5zM804 464.7h0.5v127.7h-0.5zM804.5 466.9h0.5v124.1h-0.5zM805 467.7h0.5v121.2h-0.5zM806.5 523.8h0.5v74.7h-0.5zM807 512h0.5v81.7h-0.5zM807.5 490.4h0.5v104.7h-0.5zM808 472h0.5v136.2h-0.5zM808.5 454.6h0.5v158.4h-0.5zM809 442.7h0.5v183h-0.5zM809.5 442h0.5v193.1h-0.5zM810 441.3h0.5v213.8h-0.5zM810.5 441.9h0.5v220.4h-0.5zM811 441.6h0.5v235.5h-0.5zM811.5 441.7h0.5v252.1h-0.5zM812 467.3h0.5v231.6h-0.5zM812.5 503h0.5v197.6h-0.5zM813 531.2h0.5v170.8h-0.5zM815.5 550.3h0.5v21.8h-0.5zM816 531.6h0.5v56.1h-0.5zM816.5 539.7h0.5v37.6h-0.5zM817 528.3h0.5v44.2h-0.5zM817.5 511.9h0.5v64.3h-0.5zM819 502h0.5v67.1h-0.5zM819.5 496.3h0.5v80.9h-0.5zM820 488.4h0.5v91.1h-0.5zM820.5 484.5h0.5v95.6h-0.5zM821 459.1h0.5v181.2h-0.5zM821.5 442.6h0.5v256.6h-0.5zM822 441.7h0.5v257.6h-0.5zM822.5 442.9h0.5v257.6h-0.5zM823 441.3h0.5v259.8h-0.5zM823.5 441.5h0.5v257.4h-0.5zM825 512.6h0.5v187h-0.5zM825.5 530.4h0.5v170.3h-0.5zM826 532.4h0.5v167h-0.5zM826.5 533.7h0.5v166.7h-0.5zM827 537h0.5v163.2h-0.5zM828.5 543.6h0.5v90.9h-0.5zM829 525.6h0.5v69.4h-0.5zM829.5 536.7h0.5v57.2h-0.5zM830 537.5h0.5v50.9h-0.5zM830.5 525.3h0.5v61h-0.5zM831.5 537.3h0.5v163.6h-0.5zM832 441.8h0.5v257.5h-0.5zM832.5 442.7h0.5v257.7h-0.5zM833 441.5h0.5v258.6h-0.5zM833.5 441.2h0.5v258h-0.5zM834 441.3h0.5v259.1h-0.5zM834.5 441.5h0.5v258.4h-0.5zM835 442.7h0.5v256.6h-0.5zM835.5 442.3h0.5v257.7h-0.5zM837.5 442.6h0.5v257.4h-0.5zM838 442.7h0.5v256.6h-0.5zM838.5 441.4h0.5v257.6h-0.5zM839 442.8h0.5v257.3h-0.5zM839.5 442.8h0.5v257.7h-0.5zM840 442.3h0.5v258.2h-0.5zM840.5 442.7h0.5v258.1h-0.5zM841 443.1h0.5v256h-0.5zM842.5 484.9h0.5v128.8h-0.5zM844 672.6h0.5v28.3h-0.5zM844.5 442.3h0.5v257.6h-0.5zM845 442.9h0.5v256.4h-0.5zM845.5 441.8h0.5v258h-0.5zM846 441.7h0.5v258h-0.5zM846.5 441.5h0.5v257.9h-0.5zM847 441.8h0.5v260.3h-0.5zM847.5 507.3h0.5v191.9h-0.5zM848 442.9h0.5v256.7h-0.5zM848.5 442.6h0.5v258.2h-0.5zM849 442.4h0.5v257.7h-0.5zM849.5 441.7h0.5v259.1h-0.5zM850 441.1h0.5v258.7h-0.5zM850.5 441.3h0.5v258.2h-0.5zM851 442.3h0.5v257.9h-0.5zM851.5 443.1h0.5v257.2h-0.5zM852 441.9h0.5v258.9h-0.5zM852.5 442.9h0.5v256h-0.5zM853 442.6h0.5v256.3h-0.5zM853.5 442.8h0.5v256.5h-0.5zM854 441.2h0.5v258.6h-0.5zM854.5 441.3h0.5v259.5h-0.5zM855 441.8h0.5v257.7h-0.5zM855.5 442.7h0.5v258.1h-0.5zM856 441.7h0.5v257.7h-0.5zM856.5 441.6h0.5v257.9h-0.5zM857 442.1h0.5v257.5h-0.5zM857.5 442.9h0.5v256.1h-0.5zM858 442.4h0.5v258.6h-0.5zM858.5 443h0.5v256.6h-0.5zM859 440.4h0.5v260.1h-0.5zM859.5 442.9h0.5v256.4h-0.5zM860 442.9h0.5v257.1h-0.5zM860.5 442.6h0.5v257.4h-0.5zM861 442.5h0.5v256.5h-0.5zM861.5 442.8h0.5v258.1h-0.5zM862 441.8h0.5v257.6h-0.5zM862.5 441.8h0.5v257.3h-0.5zM863 441.1h0.5v257.8h-0.5zM863.5 441.9h0.5v258.8h-0.5zM864 442.4h0.5v257.1h-0.5zM864.5 442h0.5v258.4h-0.5zM865 441h0.5v258.5h-0.5zM865.5 442h0.5v258.4h-0.5zM866 442.8h0.5v256.7h-0.5zM866.5 442.2h0.5v257.4h-0.5zM867 441.7h0.5v259.2h-0.5zM867.5 442.2h0.5v260.2h-0.5zM868 443h0.5v256.3h-0.5zM868.5 442.4h0.5v257.9h-0.5zM869 443.1h0.5v257.5h-0.5zM869.5 442.8h0.5v257.5h-0.5zM870 442.1h0.5v259.1h-0.5zM870.5 441.4h0.5v258.1h-0.5zM871 442.7h0.5v256.4h-0.5zM871.5 441.6h0.5v258.5h-0.5zM872 441.1h0.5v258.9h-0.5zM872.5 441.2h0.5v257.7h-0.5zM873 441.7h0.5v258.8h-0.5zM873.5 442.1h0.5v257.1h-0.5zM874 441.9h0.5v257.8h-0.5zM874.5 442.9h0.5v256.5h-0.5zM875 440.1h0.5v260.8h-0.5zM875.5 441.1h0.5v258.3h-0.5zM876 443h0.5v257.5h-0.5zM876.5 442.2h0.5v257.5h-0.5zM877 441.1h0.5v258.2h-0.5zM877.5 442.3h0.5v258h-0.5zM878 442.9h0.5v257.2h-0.5zM878.5 442.5h0.5v259.9h-0.5zM879 440.9h0.5v258.9h-0.5zM879.5 442.3h0.5v257.1h-0.5zM880 441.2h0.5v258.4h-0.5zM880.5 442.8h0.5v256.1h-0.5zM881 441.1h0.5v258.1h-0.5zM881.5 442.4h0.5v256.7h-0.5zM882 441.9h0.5v257.9h-0.5zM882.5 442.8h0.5v256.3h-0.5zM883 442.4h0.5v256.6h-0.5zM883.5 442.1h0.5v257.6h-0.5zM884 442.4h0.5v256.6h-0.5zM884.5 441.4h0.5v259.2h-0.5zM885 442.5h0.5v257.1h-0.5zM885.5 442.8h0.5v257.1h-0.5zM886 441.4h0.5v258.9h-0.5zM886.5 441.9h0.5v257.3h-0.5zM887 442.8h0.5v257.7h-0.5zM887.5 439.8h0.5v261h-0.5zM888 442.2h0.5v258.5h-0.5zM888.5 442.1h0.5v258.7h-0.5zM889 442.3h0.5v257.1h-0.5zM889.5 443h0.5v255.9h-0.5zM890 442.4h0.5v257.2h-0.5zM890.5 441.8h0.5v258.2h-0.5zM891 443h0.5v257.1h-0.5zM891.5 440.7h0.5v259.9h-0.5zM892 442.6h0.5v258.1h-0.5zM892.5 441h0.5v259.5h-0.5zM893 441.9h0.5v259h-0.5zM893.5 442.1h0.5v257.7h-0.5zM894 441.4h0.5v258.8h-0.5zM894.5 441.8h0.5v259.1h-0.5zM895 442.3h0.5v257.9h-0.5zM895.5 443.2h0.5v256.4h-0.5zM896 441.2h0.5v259.1h-0.5zM896.5 443h0.5v257.4h-0.5zM897 441.1h0.5v259.3h-0.5zM897.5 442.8h0.5v256.1h-0.5zM898 442.7h0.5v257.6h-0.5zM898.5 441.7h0.5v259.9h-0.5zM899 443.1h0.5v256.5h-0.5zM899.5 441.3h0.5v259.5h-0.5zM900 443.1h0.5v255.8h-0.5zM900.5 442.8h0.5v257.6h-0.5zM901 442.9h0.5v256.6h-0.5zM901.5 441.7h0.5v258.9h-0.5zM902 442.4h0.5v260h-0.5zM902.5 442.2h0.5v257.1h-0.5zM903 441.8h0.5v257.9h-0.5zM903.5 442.4h0.5v258.4h-0.5zM904 441.5h0.5v258.3h-0.5zM904.5 443.2h0.5v257.3h-0.5zM905 442.4h0.5v258.1h-0.5zM905.5 443.1h0.5v256.9h-0.5zM906 440.8h0.5v258.6h-0.5zM906.5 441.8h0.5v258.7h-0.5zM907 442.8h0.5v257.2h-0.5zM907.5 442h0.5v258.3h-0.5zM908 442.5h0.5v256.6h-0.5zM908.5 442.8h0.5v256.5h-0.5zM909 441.1h0.5v258h-0.5zM909.5 442.5h0.5v258h-0.5zM910 442.8h0.5v256.6h-0.5zM910.5 441.8h0.5v259.1h-0.5zM911 441.1h0.5v258h-0.5zM911.5 442.4h0.5v258.4h-0.5zM912 442.1h0.5v258.4h-0.5zM912.5 441.3h0.5v257.5h-0.5zM913 441.5h0.5v258.3h-0.5zM913.5 441.6h0.5v258.2h-0.5zM914 440.7h0.5v260h-0.5zM914.5 441.3h0.5v257.7h-0.5zM915 441.7h0.5v258.4h-0.5zM915.5 441.8h0.5v259h-0.5zM916 443h0.5v256h-0.5zM916.5 441.3h0.5v259.1h-0.5zM917 442.8h0.5v258h-0.5zM917.5 442.4h0.5v256.5h-0.5zM918 441.2h0.5v260.4h-0.5zM918.5 442.5h0.5v257.7h-0.5zM919 441.4h0.5v257.5h-0.5zM919.5 443h0.5v257.4h-0.5zM920 441.8h0.5v257.4h-0.5zM920.5 441.2h0.5v259.1h-0.5zM921 442.1h0.5v256.9h-0.5zM921.5 442.7h0.5v257.4h-0.5zM922 443.1h0.5v256.4h-0.5zM922.5 442.5h0.5v257.4h-0.5zM923 442h0.5v257.8h-0.5zM923.5 442.4h0.5v257.8h-0.5zM924 443.1h0.5v257h-0.5zM924.5 442.8h0.5v257.7h-0.5zM925 442.9h0.5v256.5h-0.5zM925.5 443.1h0.5v256.6h-0.5zM926 443h0.5v256.4h-0.5zM926.5 441.8h0.5v260.1h-0.5zM927 441.2h0.5v257.8h-0.5zM927.5 441.6h0.5v258.1h-0.5zM928 441.6h0.5v258.7h-0.5zM928.5 443h0.5v256.7h-0.5zM929 442.9h0.5v257.2h-0.5zM929.5 442.3h0.5v256.5h-0.5zM930 442.5h0.5v256.6h-0.5zM930.5 442h0.5v257.7h-0.5zM931 442.3h0.5v257h-0.5zM931.5 443h0.5v258h-0.5zM932 441.4h0.5v257.4h-0.5zM932.5 442.8h0.5v256.4h-0.5zM933 441.1h0.5v258.7h-0.5zM933.5 441.7h0.5v259.1h-0.5zM934 442.4h0.5v257.5h-0.5zM934.5 442.4h0.5v257h-0.5zM935 440.6h0.5v259.9h-0.5zM935.5 442.6h0.5v256.3h-0.5zM936 442.1h0.5v257.6h-0.5zM936.5 441.8h0.5v257.8h-0.5zM937 443h0.5v258.7h-0.5zM937.5 441.7h0.5v258.8h-0.5zM938 442.7h0.5v256.3h-0.5zM938.5 441.7h0.5v257.2h-0.5zM939 442.5h0.5v256.9h-0.5zM939.5 442.5h0.5v258.4h-0.5zM940 441.6h0.5v258.7h-0.5zM940.5 441.7h0.5v258.6h-0.5zM941 442.7h0.5v256.5h-0.5zM941.5 442.7h0.5v257.3h-0.5zM942 441.5h0.5v257.5h-0.5zM942.5 442.2h0.5v256.8h-0.5zM943 442.3h0.5v258.5h-0.5zM943.5 443h0.5v256.6h-0.5zM944 441.8h0.5v257.5h-0.5zM944.5 442.1h0.5v257.4h-0.5zM945 441.8h0.5v258.3h-0.5zM945.5 442.5h0.5v258.3h-0.5zM946 442.8h0.5v256.7h-0.5zM946.5 441.5h0.5v258.4h-0.5zM947 441.7h0.5v258.1h-0.5zM947.5 442.8h0.5v256.3h-0.5zM948 440.1h0.5v259.5h-0.5zM948.5 442.1h0.5v257.5h-0.5zM949 442.5h0.5v256.9h-0.5zM949.5 443.1h0.5v256.2h-0.5zM950 442.9h0.5v257.6h-0.5zM950.5 441.6h0.5v259h-0.5zM951 441.4h0.5v259.1h-0.5zM951.5 441h0.5v258.1h-0.5zM952 442.8h0.5v256.9h-0.5z" fill="#0072bd" stroke="none"/><g fill="#fff" fill-opacity="0.45"><rect x="106.0" y="578.0" width="0.8" height="37.0"/><rect x="240.9" y="477.0" width="0.8" height="12.0"/><rect x="244.9" y="600.0" width="0.8" height="65.0"/><rect x="252.9" y="606.0" width="0.8" height="51.0"/><rect x="265.9" y="442.0" width="0.8" height="47.0"/><rect x="265.9" y="599.0" width="0.8" height="101.0"/><rect x="267.9" y="442.0" width="0.8" height="18.0"/><rect x="267.9" y="651.0" width="0.8" height="49.0"/><rect x="285.8" y="554.0" width="0.8" height="18.0"/><rect x="306.0" y="554.0" width="0.8" height="60.0"/><rect x="319.2" y="570.0" width="0.8" height="35.0"/></g>
</g>
<g font-family="'Liberation Sans', sans-serif" fill="#262626">
<text transform="translate(496.70 16.90) scale(1 1.030)" font-size="22" text-anchor="middle" font-weight="bold" fill="#000">NWC20240219.txt</text>
<text transform="translate(70.00 323.20) scale(1 1.030)" font-size="20" text-anchor="end">-100</text>
<text transform="translate(70.80 275.40) scale(1 1.030)" font-size="20" text-anchor="end">-95</text>
<text transform="translate(70.80 227.85) scale(1 1.030)" font-size="20" text-anchor="end">-90</text>
<text transform="translate(70.80 180.30) scale(1 1.030)" font-size="20" text-anchor="end">-85</text>
<text transform="translate(70.80 132.15) scale(1 1.030)" font-size="20" text-anchor="end">-80</text>
<text transform="translate(70.80 85.20) scale(1 1.030)" font-size="20" text-anchor="end">-75</text>
<text transform="translate(70.80 37.40) scale(1 1.030)" font-size="20" text-anchor="end">-70</text>
<text transform="translate(69.00 720.80) scale(1 1.030)" font-size="20" text-anchor="end">-200</text>
<text transform="translate(69.00 650.65) scale(1 1.030)" font-size="20" text-anchor="end">-100</text>
<text transform="translate(72.90 578.65) scale(1 1.030)" font-size="20" text-anchor="end">0</text>
<text transform="translate(69.00 507.15) scale(1 1.030)" font-size="20" text-anchor="end">100</text>
<text transform="translate(69.00 434.85) scale(1 1.030)" font-size="20" text-anchor="end">200</text>
<text transform="translate(82.80 344.00) scale(1 1.030)" font-size="20" text-anchor="middle">0</text>
<text transform="translate(82.80 742.00) scale(1 1.030)" font-size="20" text-anchor="middle">0</text>
<text transform="translate(191.29 344.00) scale(1 1.030)" font-size="20" text-anchor="middle">3</text>
<text transform="translate(191.29 742.00) scale(1 1.030)" font-size="20" text-anchor="middle">3</text>
<text transform="translate(299.78 344.00) scale(1 1.030)" font-size="20" text-anchor="middle">6</text>
<text transform="translate(299.78 742.00) scale(1 1.030)" font-size="20" text-anchor="middle">6</text>
<text transform="translate(408.26 344.00) scale(1 1.030)" font-size="20" text-anchor="middle">9</text>
<text transform="translate(408.26 742.00) scale(1 1.030)" font-size="20" text-anchor="middle">9</text>
<text transform="translate(516.75 344.00) scale(1 1.030)" font-size="20" text-anchor="middle">12</text>
<text transform="translate(516.75 742.00) scale(1 1.030)" font-size="20" text-anchor="middle">12</text>
<text transform="translate(625.24 344.00) scale(1 1.030)" font-size="20" text-anchor="middle">15</text>
<text transform="translate(625.24 742.00) scale(1 1.030)" font-size="20" text-anchor="middle">15</text>
<text transform="translate(733.73 344.00) scale(1 1.030)" font-size="20" text-anchor="middle">18</text>
<text transform="translate(733.73 742.00) scale(1 1.030)" font-size="20" text-anchor="middle">18</text>
<text transform="translate(842.21 344.00) scale(1 1.030)" font-size="20" text-anchor="middle">21</text>
<text transform="translate(842.21 742.00) scale(1 1.030)" font-size="20" text-anchor="middle">21</text>
<text transform="translate(950.70 344.00) scale(1 1.030)" font-size="20" text-anchor="middle">24</text>
<text transform="translate(950.70 742.00) scale(1 1.030)" font-size="20" text-anchor="middle">24</text>
<text transform="translate(497.20 771.60) scale(1 1.030)" font-size="22" text-anchor="middle">Time (hours after midnight UTC)</text>
<text transform="translate(18.00 181.40) rotate(-90) scale(1 1.030)" font-size="21.7" text-anchor="middle">Amplitude (dB)</text>
<text transform="translate(18.00 579.20) rotate(-90) scale(1 1.030)" font-size="21.7" text-anchor="middle">Phase (degrees)</text>
</g>
</svg>
</body>
</html>
